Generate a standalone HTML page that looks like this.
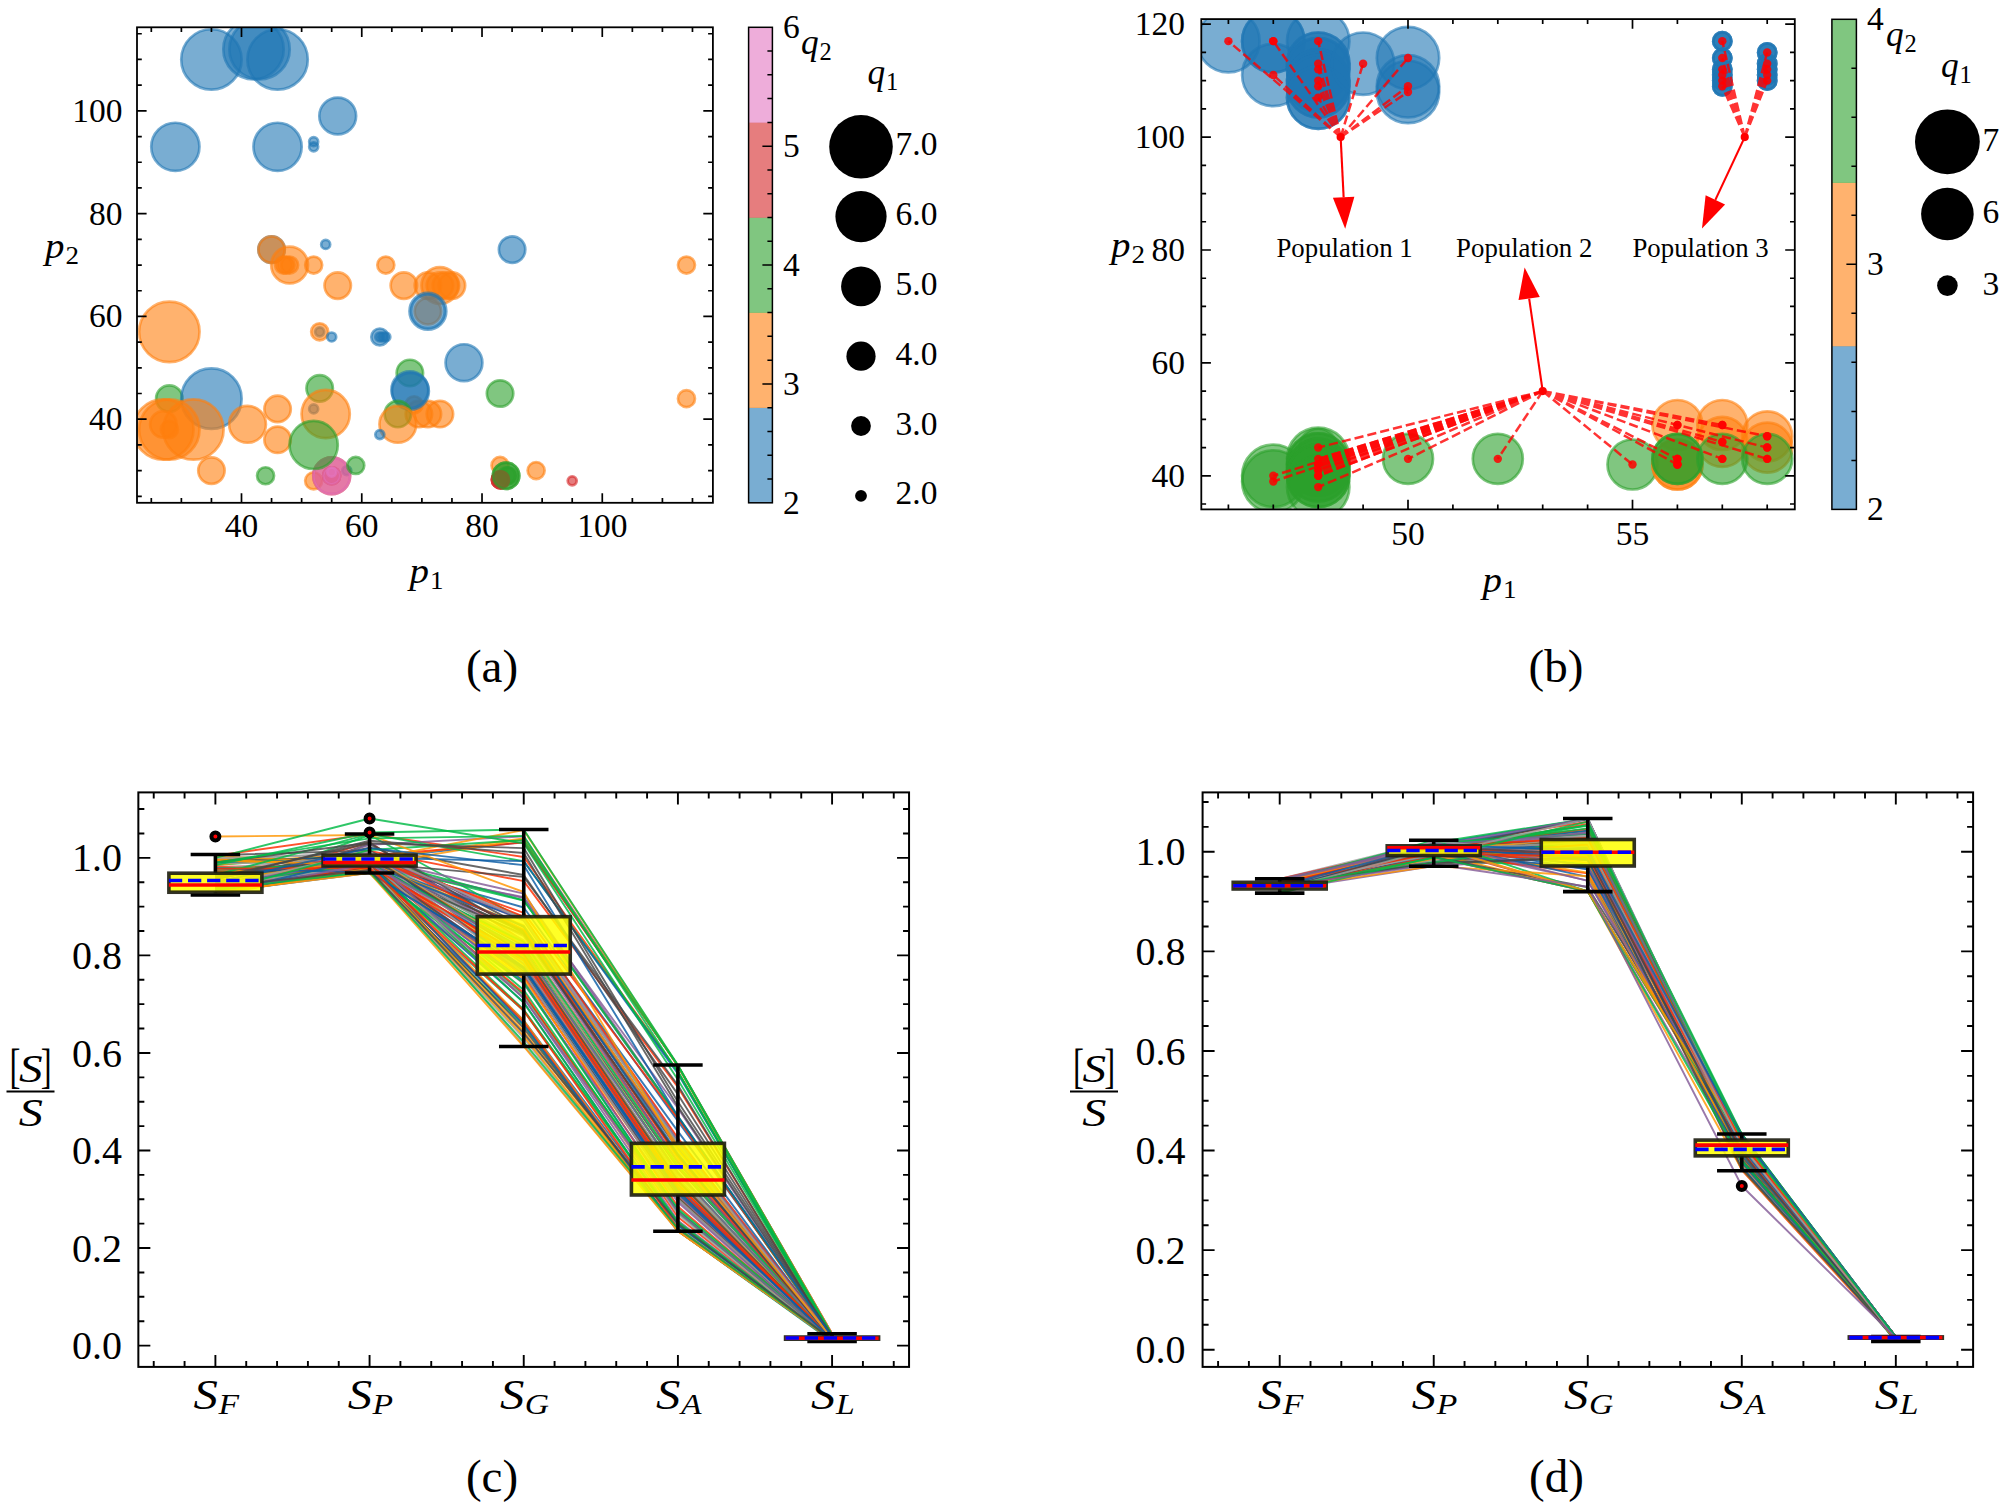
<!DOCTYPE html>
<html lang="en"><head><meta charset="utf-8"><title>Figure</title>
<style>html,body{margin:0;padding:0;background:#fff;overflow:hidden}svg{display:block}text{font-family:"Liberation Serif", "DejaVu Serif", serif;fill:#000}</style></head><body>
<svg width="2007" height="1508" viewBox="0 0 2007 1508">
<rect width="2007" height="1508" fill="#fff"/>
<clipPath id="ca"><rect x="137" y="27.3" width="575.9" height="475.5"/></clipPath>
<g clip-path="url(#ca)">
<circle cx="211.44" cy="59.47" r="30.2" fill="#1f77b4" fill-opacity="0.6" stroke="#1f77b4" stroke-opacity="0.6" stroke-width="2.7"/>
<circle cx="253.53" cy="49.19" r="30.2" fill="#1f77b4" fill-opacity="0.6" stroke="#1f77b4" stroke-opacity="0.6" stroke-width="2.7"/>
<circle cx="259.54" cy="49.19" r="30.2" fill="#1f77b4" fill-opacity="0.6" stroke="#1f77b4" stroke-opacity="0.6" stroke-width="2.7"/>
<circle cx="277.58" cy="59.47" r="30.2" fill="#1f77b4" fill-opacity="0.6" stroke="#1f77b4" stroke-opacity="0.6" stroke-width="2.7"/>
<circle cx="337.71" cy="116" r="18.4" fill="#1f77b4" fill-opacity="0.6" stroke="#1f77b4" stroke-opacity="0.6" stroke-width="2.7"/>
<circle cx="175.36" cy="146.83" r="24.1" fill="#1f77b4" fill-opacity="0.6" stroke="#1f77b4" stroke-opacity="0.6" stroke-width="2.7"/>
<circle cx="277.58" cy="146.83" r="24.1" fill="#1f77b4" fill-opacity="0.6" stroke="#1f77b4" stroke-opacity="0.6" stroke-width="2.7"/>
<circle cx="313.66" cy="141.69" r="4.5" fill="#1f77b4" fill-opacity="0.6" stroke="#1f77b4" stroke-opacity="0.6" stroke-width="2.7"/>
<circle cx="313.66" cy="146.83" r="4.5" fill="#1f77b4" fill-opacity="0.6" stroke="#1f77b4" stroke-opacity="0.6" stroke-width="2.7"/>
<circle cx="325.68" cy="244.47" r="4.5" fill="#1f77b4" fill-opacity="0.6" stroke="#1f77b4" stroke-opacity="0.6" stroke-width="2.7"/>
<circle cx="271.56" cy="249.61" r="13.2" fill="#1f77b4" fill-opacity="0.6" stroke="#1f77b4" stroke-opacity="0.6" stroke-width="2.7"/>
<circle cx="271.56" cy="249.61" r="13.2" fill="#ff7f0e" fill-opacity="0.6" stroke="#ff7f0e" stroke-opacity="0.6" stroke-width="2.7"/>
<circle cx="289.6" cy="265.03" r="18.4" fill="#ff7f0e" fill-opacity="0.6" stroke="#ff7f0e" stroke-opacity="0.6" stroke-width="2.7"/>
<circle cx="283.59" cy="265.03" r="8.5" fill="#ff7f0e" fill-opacity="0.6" stroke="#ff7f0e" stroke-opacity="0.6" stroke-width="2.7"/>
<circle cx="286" cy="265.03" r="8.5" fill="#ff7f0e" fill-opacity="0.6" stroke="#ff7f0e" stroke-opacity="0.6" stroke-width="2.7"/>
<circle cx="289.6" cy="265.03" r="8.5" fill="#ff7f0e" fill-opacity="0.6" stroke="#ff7f0e" stroke-opacity="0.6" stroke-width="2.7"/>
<circle cx="313.66" cy="265.03" r="8.5" fill="#ff7f0e" fill-opacity="0.6" stroke="#ff7f0e" stroke-opacity="0.6" stroke-width="2.7"/>
<circle cx="385.81" cy="265.03" r="8.5" fill="#ff7f0e" fill-opacity="0.6" stroke="#ff7f0e" stroke-opacity="0.6" stroke-width="2.7"/>
<circle cx="686.46" cy="265.03" r="8.5" fill="#ff7f0e" fill-opacity="0.6" stroke="#ff7f0e" stroke-opacity="0.6" stroke-width="2.7"/>
<circle cx="337.71" cy="285.59" r="13.2" fill="#ff7f0e" fill-opacity="0.6" stroke="#ff7f0e" stroke-opacity="0.6" stroke-width="2.7"/>
<circle cx="403.85" cy="285.59" r="13.2" fill="#ff7f0e" fill-opacity="0.6" stroke="#ff7f0e" stroke-opacity="0.6" stroke-width="2.7"/>
<circle cx="427.9" cy="285.59" r="13.2" fill="#ff7f0e" fill-opacity="0.6" stroke="#ff7f0e" stroke-opacity="0.6" stroke-width="2.7"/>
<circle cx="439.93" cy="285.59" r="18.4" fill="#ff7f0e" fill-opacity="0.6" stroke="#ff7f0e" stroke-opacity="0.6" stroke-width="2.7"/>
<circle cx="439.93" cy="285.59" r="13.2" fill="#ff7f0e" fill-opacity="0.6" stroke="#ff7f0e" stroke-opacity="0.6" stroke-width="2.7"/>
<circle cx="445.94" cy="285.59" r="13.2" fill="#ff7f0e" fill-opacity="0.6" stroke="#ff7f0e" stroke-opacity="0.6" stroke-width="2.7"/>
<circle cx="451.95" cy="285.59" r="13.2" fill="#ff7f0e" fill-opacity="0.6" stroke="#ff7f0e" stroke-opacity="0.6" stroke-width="2.7"/>
<circle cx="512.09" cy="249.61" r="13.2" fill="#1f77b4" fill-opacity="0.6" stroke="#1f77b4" stroke-opacity="0.6" stroke-width="2.7"/>
<circle cx="427.9" cy="311.28" r="13.2" fill="#ff7f0e" fill-opacity="0.6" stroke="#ff7f0e" stroke-opacity="0.6" stroke-width="2.7"/>
<circle cx="427.9" cy="311.28" r="18.4" fill="#1f77b4" fill-opacity="0.6" stroke="#1f77b4" stroke-opacity="0.6" stroke-width="2.7"/>
<circle cx="169.34" cy="331.84" r="30.2" fill="#ff7f0e" fill-opacity="0.6" stroke="#ff7f0e" stroke-opacity="0.6" stroke-width="2.7"/>
<circle cx="319.67" cy="331.84" r="4.5" fill="#1f77b4" fill-opacity="0.6" stroke="#1f77b4" stroke-opacity="0.6" stroke-width="2.7"/>
<circle cx="319.67" cy="331.84" r="8.5" fill="#ff7f0e" fill-opacity="0.6" stroke="#ff7f0e" stroke-opacity="0.6" stroke-width="2.7"/>
<circle cx="331.69" cy="336.98" r="4.5" fill="#1f77b4" fill-opacity="0.6" stroke="#1f77b4" stroke-opacity="0.6" stroke-width="2.7"/>
<circle cx="379.8" cy="336.98" r="8.5" fill="#1f77b4" fill-opacity="0.6" stroke="#1f77b4" stroke-opacity="0.6" stroke-width="2.7"/>
<circle cx="379.8" cy="336.98" r="4.5" fill="#1f77b4" fill-opacity="0.6" stroke="#1f77b4" stroke-opacity="0.6" stroke-width="2.7"/>
<circle cx="382.81" cy="336.98" r="4.5" fill="#1f77b4" fill-opacity="0.6" stroke="#1f77b4" stroke-opacity="0.6" stroke-width="2.7"/>
<circle cx="385.81" cy="336.98" r="4.5" fill="#1f77b4" fill-opacity="0.6" stroke="#1f77b4" stroke-opacity="0.6" stroke-width="2.7"/>
<circle cx="463.98" cy="362.67" r="18.4" fill="#1f77b4" fill-opacity="0.6" stroke="#1f77b4" stroke-opacity="0.6" stroke-width="2.7"/>
<circle cx="409.86" cy="372.95" r="13.2" fill="#2ca02c" fill-opacity="0.6" stroke="#2ca02c" stroke-opacity="0.6" stroke-width="2.7"/>
<circle cx="418.88" cy="414.06" r="13.2" fill="#ff7f0e" fill-opacity="0.6" stroke="#ff7f0e" stroke-opacity="0.6" stroke-width="2.7"/>
<circle cx="427.9" cy="414.06" r="13.2" fill="#ff7f0e" fill-opacity="0.6" stroke="#ff7f0e" stroke-opacity="0.6" stroke-width="2.7"/>
<circle cx="439.93" cy="414.06" r="13.2" fill="#ff7f0e" fill-opacity="0.6" stroke="#ff7f0e" stroke-opacity="0.6" stroke-width="2.7"/>
<circle cx="414.07" cy="404.81" r="8.5" fill="#ff7f0e" fill-opacity="0.6" stroke="#ff7f0e" stroke-opacity="0.6" stroke-width="2.7"/>
<circle cx="409.86" cy="389.8" r="18.4" fill="#1f77b4" fill-opacity="0.6" stroke="#1f77b4" stroke-opacity="0.6" stroke-width="2.7"/>
<circle cx="410.47" cy="391.19" r="18.4" fill="#1f77b4" fill-opacity="0.6" stroke="#1f77b4" stroke-opacity="0.6" stroke-width="2.7"/>
<circle cx="319.67" cy="388.37" r="13.2" fill="#2ca02c" fill-opacity="0.6" stroke="#2ca02c" stroke-opacity="0.6" stroke-width="2.7"/>
<circle cx="500.06" cy="393.5" r="13.2" fill="#2ca02c" fill-opacity="0.6" stroke="#2ca02c" stroke-opacity="0.6" stroke-width="2.7"/>
<circle cx="686.46" cy="398.64" r="8.5" fill="#ff7f0e" fill-opacity="0.6" stroke="#ff7f0e" stroke-opacity="0.6" stroke-width="2.7"/>
<circle cx="169.34" cy="398.64" r="13.2" fill="#2ca02c" fill-opacity="0.6" stroke="#2ca02c" stroke-opacity="0.6" stroke-width="2.7"/>
<circle cx="211.44" cy="398.64" r="30.2" fill="#1f77b4" fill-opacity="0.6" stroke="#1f77b4" stroke-opacity="0.6" stroke-width="2.7"/>
<circle cx="313.66" cy="408.92" r="4.5" fill="#1f77b4" fill-opacity="0.6" stroke="#1f77b4" stroke-opacity="0.6" stroke-width="2.7"/>
<circle cx="325.68" cy="414.06" r="24.1" fill="#ff7f0e" fill-opacity="0.6" stroke="#ff7f0e" stroke-opacity="0.6" stroke-width="2.7"/>
<circle cx="277.58" cy="408.92" r="13.2" fill="#ff7f0e" fill-opacity="0.6" stroke="#ff7f0e" stroke-opacity="0.6" stroke-width="2.7"/>
<circle cx="397.84" cy="414.06" r="13.2" fill="#2ca02c" fill-opacity="0.6" stroke="#2ca02c" stroke-opacity="0.6" stroke-width="2.7"/>
<circle cx="397.84" cy="424.34" r="18.4" fill="#ff7f0e" fill-opacity="0.6" stroke="#ff7f0e" stroke-opacity="0.6" stroke-width="2.7"/>
<circle cx="163.33" cy="429.48" r="30.2" fill="#ff7f0e" fill-opacity="0.6" stroke="#ff7f0e" stroke-opacity="0.6" stroke-width="2.7"/>
<circle cx="169.34" cy="429.48" r="30.2" fill="#ff7f0e" fill-opacity="0.6" stroke="#ff7f0e" stroke-opacity="0.6" stroke-width="2.7"/>
<circle cx="193.4" cy="429.48" r="30.2" fill="#ff7f0e" fill-opacity="0.6" stroke="#ff7f0e" stroke-opacity="0.6" stroke-width="2.7"/>
<circle cx="163.33" cy="424.34" r="13.2" fill="#ff7f0e" fill-opacity="0.6" stroke="#ff7f0e" stroke-opacity="0.6" stroke-width="2.7"/>
<circle cx="169.34" cy="429.48" r="8.5" fill="#ff7f0e" fill-opacity="0.6" stroke="#ff7f0e" stroke-opacity="0.6" stroke-width="2.7"/>
<circle cx="247.51" cy="424.34" r="18.4" fill="#ff7f0e" fill-opacity="0.6" stroke="#ff7f0e" stroke-opacity="0.6" stroke-width="2.7"/>
<circle cx="277.58" cy="439.76" r="13.2" fill="#ff7f0e" fill-opacity="0.6" stroke="#ff7f0e" stroke-opacity="0.6" stroke-width="2.7"/>
<circle cx="379.8" cy="434.62" r="4.5" fill="#1f77b4" fill-opacity="0.6" stroke="#1f77b4" stroke-opacity="0.6" stroke-width="2.7"/>
<circle cx="313.66" cy="480.87" r="8.5" fill="#ff7f0e" fill-opacity="0.6" stroke="#ff7f0e" stroke-opacity="0.6" stroke-width="2.7"/>
<circle cx="346.73" cy="470.59" r="4.5" fill="#1f77b4" fill-opacity="0.6" stroke="#1f77b4" stroke-opacity="0.6" stroke-width="2.7"/>
<circle cx="331.69" cy="475.73" r="18.4" fill="#d62728" fill-opacity="0.6" stroke="#d62728" stroke-opacity="0.6" stroke-width="2.7"/>
<circle cx="331.69" cy="475.73" r="18.4" fill="#e377c2" fill-opacity="0.6" stroke="#e377c2" stroke-opacity="0.6" stroke-width="2.7"/>
<circle cx="331.69" cy="475.73" r="8.5" fill="#d62728" fill-opacity="0.6" stroke="#d62728" stroke-opacity="0.6" stroke-width="2.7"/>
<circle cx="331.69" cy="475.73" r="8.5" fill="#e377c2" fill-opacity="0.6" stroke="#e377c2" stroke-opacity="0.6" stroke-width="2.7"/>
<circle cx="331.69" cy="472.13" r="4.5" fill="#e377c2" fill-opacity="0.6" stroke="#e377c2" stroke-opacity="0.6" stroke-width="2.7"/>
<circle cx="313.66" cy="444.89" r="24.1" fill="#2ca02c" fill-opacity="0.6" stroke="#2ca02c" stroke-opacity="0.6" stroke-width="2.7"/>
<circle cx="211.44" cy="470.59" r="13.2" fill="#ff7f0e" fill-opacity="0.6" stroke="#ff7f0e" stroke-opacity="0.6" stroke-width="2.7"/>
<circle cx="265.55" cy="475.73" r="8.5" fill="#2ca02c" fill-opacity="0.6" stroke="#2ca02c" stroke-opacity="0.6" stroke-width="2.7"/>
<circle cx="355.75" cy="465.45" r="8.5" fill="#2ca02c" fill-opacity="0.6" stroke="#2ca02c" stroke-opacity="0.6" stroke-width="2.7"/>
<circle cx="500.06" cy="465.45" r="8.5" fill="#ff7f0e" fill-opacity="0.6" stroke="#ff7f0e" stroke-opacity="0.6" stroke-width="2.7"/>
<circle cx="508.48" cy="475.73" r="8.5" fill="#2ca02c" fill-opacity="0.6" stroke="#2ca02c" stroke-opacity="0.6" stroke-width="2.7"/>
<circle cx="506.67" cy="475.73" r="8.5" fill="#2ca02c" fill-opacity="0.6" stroke="#2ca02c" stroke-opacity="0.6" stroke-width="2.7"/>
<circle cx="506.07" cy="475.73" r="13.2" fill="#2ca02c" fill-opacity="0.6" stroke="#2ca02c" stroke-opacity="0.6" stroke-width="2.7"/>
<circle cx="500.36" cy="479.84" r="8.5" fill="#d62728" fill-opacity="0.6" stroke="#d62728" stroke-opacity="0.6" stroke-width="2.7"/>
<circle cx="500.36" cy="479.84" r="8.5" fill="#d62728" fill-opacity="0.6" stroke="#d62728" stroke-opacity="0.6" stroke-width="2.7"/>
<circle cx="500.36" cy="479.84" r="8.5" fill="#d62728" fill-opacity="0.6" stroke="#d62728" stroke-opacity="0.6" stroke-width="2.7"/>
<circle cx="506.07" cy="475.73" r="13.2" fill="#2ca02c" fill-opacity="0.6" stroke="#2ca02c" stroke-opacity="0.6" stroke-width="2.7"/>
<circle cx="536.14" cy="470.59" r="8.5" fill="#ff7f0e" fill-opacity="0.6" stroke="#ff7f0e" stroke-opacity="0.6" stroke-width="2.7"/>
<circle cx="572.21" cy="480.87" r="4.5" fill="#d62728" fill-opacity="0.6" stroke="#d62728" stroke-opacity="0.6" stroke-width="2.7"/>
<circle cx="427.9" cy="311.28" r="16.6" fill="none" stroke="#1f77b4" stroke-opacity="0.6" stroke-width="2.2"/>
</g>
<path d="M241.5 502.8v-9.6M241.5 27.3v9.6M361.76 502.8v-9.6M361.76 27.3v9.6M482.02 502.8v-9.6M482.02 27.3v9.6M602.28 502.8v-9.6M602.28 27.3v9.6M151.31 502.8v-4.8M151.31 27.3v4.8M181.37 502.8v-4.8M181.37 27.3v4.8M211.44 502.8v-4.8M211.44 27.3v4.8M271.56 502.8v-4.8M271.56 27.3v4.8M301.63 502.8v-4.8M301.63 27.3v4.8M331.69 502.8v-4.8M331.69 27.3v4.8M391.82 502.8v-4.8M391.82 27.3v4.8M421.89 502.8v-4.8M421.89 27.3v4.8M451.95 502.8v-4.8M451.95 27.3v4.8M512.09 502.8v-4.8M512.09 27.3v4.8M542.15 502.8v-4.8M542.15 27.3v4.8M572.21 502.8v-4.8M572.21 27.3v4.8M632.35 502.8v-4.8M632.35 27.3v4.8M662.41 502.8v-4.8M662.41 27.3v4.8M692.47 502.8v-4.8M692.47 27.3v4.8M137 419.2h9.6M712.9 419.2h-9.6M137 316.42h9.6M712.9 316.42h-9.6M137 213.64h9.6M712.9 213.64h-9.6M137 110.86h9.6M712.9 110.86h-9.6M137 496.28h4.8M712.9 496.28h-4.8M137 470.59h4.8M712.9 470.59h-4.8M137 444.89h4.8M712.9 444.89h-4.8M137 393.5h4.8M712.9 393.5h-4.8M137 367.81h4.8M712.9 367.81h-4.8M137 342.12h4.8M712.9 342.12h-4.8M137 290.73h4.8M712.9 290.73h-4.8M137 265.03h4.8M712.9 265.03h-4.8M137 239.33h4.8M712.9 239.33h-4.8M137 187.94h4.8M712.9 187.94h-4.8M137 162.25h4.8M712.9 162.25h-4.8M137 136.55h4.8M712.9 136.55h-4.8M137 85.16h4.8M712.9 85.16h-4.8M137 59.47h4.8M712.9 59.47h-4.8M137 33.77h4.8M712.9 33.77h-4.8" stroke="#000" stroke-width="1.7" fill="none"/>
<rect x="137" y="27.3" width="575.9" height="475.5" fill="none" stroke="#000" stroke-width="1.8"/>
<text x="241.5" y="537.3" font-size="33.5" text-anchor="middle">40</text>
<text x="122.6" y="430.2" font-size="33.5" text-anchor="end">40</text>
<text x="361.76" y="537.3" font-size="33.5" text-anchor="middle">60</text>
<text x="122.6" y="327.42" font-size="33.5" text-anchor="end">60</text>
<text x="482.02" y="537.3" font-size="33.5" text-anchor="middle">80</text>
<text x="122.6" y="224.64" font-size="33.5" text-anchor="end">80</text>
<text x="602.28" y="537.3" font-size="33.5" text-anchor="middle">100</text>
<text x="122.6" y="121.86" font-size="33.5" text-anchor="end">100</text>
<g transform="translate(45 258.3) scale(1.08 1)"><text x="0" y="0" font-size="36"><tspan font-style="italic">p</tspan><tspan font-size="25" dx="1" dy="5.7">2</tspan></text></g>
<g transform="translate(409.5 583.2) scale(1.08 1)"><text x="0" y="0" font-size="36"><tspan font-style="italic">p</tspan><tspan font-size="25" dx="1" dy="5.7">1</tspan></text></g>
<text x="492" y="681.6" font-size="47" text-anchor="middle">(a)</text>
<rect x="748.6" y="407.7" width="23.8" height="95.4" fill="#1f77b4" fill-opacity="0.6"/>
<rect x="748.6" y="312.6" width="23.8" height="95.4" fill="#ff7f0e" fill-opacity="0.6"/>
<rect x="748.6" y="217.5" width="23.8" height="95.4" fill="#2ca02c" fill-opacity="0.6"/>
<rect x="748.6" y="122.4" width="23.8" height="95.4" fill="#d62728" fill-opacity="0.6"/>
<rect x="748.6" y="27.3" width="23.8" height="95.4" fill="#e377c2" fill-opacity="0.6"/>
<path d="M772.4 479.02h-5M772.4 455.25h-5M772.4 431.47h-5M772.4 407.7h-5M772.4 383.92h-10M772.4 360.15h-5M772.4 336.37h-5M772.4 312.6h-5M772.4 288.82h-5M772.4 265.05h-10M772.4 241.27h-5M772.4 217.5h-5M772.4 193.72h-5M772.4 169.95h-5M772.4 146.17h-10M772.4 122.4h-5M772.4 98.62h-5M772.4 74.85h-5M772.4 51.07h-5" stroke="#000" stroke-width="1.5" fill="none"/>
<rect x="748.6" y="27.3" width="23.8" height="475.5" fill="none" stroke="#000" stroke-width="1.5"/>
<text x="782.9" y="513.86" font-size="33.5" text-anchor="start">2</text>
<text x="782.9" y="394.98" font-size="33.5" text-anchor="start">3</text>
<text x="782.9" y="276.11" font-size="33.5" text-anchor="start">4</text>
<text x="782.9" y="157.23" font-size="33.5" text-anchor="start">5</text>
<text x="782.9" y="38.36" font-size="33.5" text-anchor="start">6</text>
<g transform="translate(801 54.3) scale(0.98 1)"><text x="0" y="0" font-size="36"><tspan font-style="italic">q</tspan><tspan font-size="25" dx="1" dy="5.7">2</tspan></text></g>
<g transform="translate(867.5 83.8) scale(0.98 1)"><text x="0" y="0" font-size="36"><tspan font-style="italic">q</tspan><tspan font-size="25" dx="1" dy="5.7">1</tspan></text></g>
<circle cx="861" cy="146.8" r="31.8" fill="#000"/>
<text x="895.5" y="155.4" font-size="33.5" text-anchor="start">7.0</text>
<circle cx="861" cy="216.6" r="25.6" fill="#000"/>
<text x="895.5" y="225.2" font-size="33.5" text-anchor="start">6.0</text>
<circle cx="861" cy="286.4" r="19.9" fill="#000"/>
<text x="895.5" y="295" font-size="33.5" text-anchor="start">5.0</text>
<circle cx="861" cy="356.2" r="14.6" fill="#000"/>
<text x="895.5" y="364.8" font-size="33.5" text-anchor="start">4.0</text>
<circle cx="861" cy="426" r="9.9" fill="#000"/>
<text x="895.5" y="434.6" font-size="33.5" text-anchor="start">3.0</text>
<circle cx="861" cy="495.8" r="5.9" fill="#000"/>
<text x="895.5" y="504.4" font-size="33.5" text-anchor="start">2.0</text>
<clipPath id="cb"><rect x="1201.3" y="19.1" width="593.5" height="490.3"/></clipPath>
<g clip-path="url(#cb)">
<circle cx="1228.4" cy="41.14" r="31.2" fill="#1f77b4" fill-opacity="0.6" stroke="#1f77b4" stroke-opacity="0.6" stroke-width="2.7"/>
<circle cx="1273.3" cy="41.14" r="31.2" fill="#1f77b4" fill-opacity="0.6" stroke="#1f77b4" stroke-opacity="0.6" stroke-width="2.7"/>
<circle cx="1273.3" cy="41.14" r="31.2" fill="#1f77b4" fill-opacity="0.6" stroke="#1f77b4" stroke-opacity="0.6" stroke-width="2.7"/>
<circle cx="1318.2" cy="41.14" r="31.2" fill="#1f77b4" fill-opacity="0.6" stroke="#1f77b4" stroke-opacity="0.6" stroke-width="2.7"/>
<circle cx="1273.3" cy="75" r="31.2" fill="#1f77b4" fill-opacity="0.6" stroke="#1f77b4" stroke-opacity="0.6" stroke-width="2.7"/>
<circle cx="1318.2" cy="63.72" r="31.2" fill="#1f77b4" fill-opacity="0.6" stroke="#1f77b4" stroke-opacity="0.6" stroke-width="2.7"/>
<circle cx="1318.2" cy="63.72" r="31.2" fill="#1f77b4" fill-opacity="0.6" stroke="#1f77b4" stroke-opacity="0.6" stroke-width="2.7"/>
<circle cx="1318.2" cy="69.36" r="31.2" fill="#1f77b4" fill-opacity="0.6" stroke="#1f77b4" stroke-opacity="0.6" stroke-width="2.7"/>
<circle cx="1318.2" cy="69.36" r="31.2" fill="#1f77b4" fill-opacity="0.6" stroke="#1f77b4" stroke-opacity="0.6" stroke-width="2.7"/>
<circle cx="1318.2" cy="80.65" r="31.2" fill="#1f77b4" fill-opacity="0.6" stroke="#1f77b4" stroke-opacity="0.6" stroke-width="2.7"/>
<circle cx="1318.2" cy="80.65" r="31.2" fill="#1f77b4" fill-opacity="0.6" stroke="#1f77b4" stroke-opacity="0.6" stroke-width="2.7"/>
<circle cx="1318.2" cy="86.3" r="31.2" fill="#1f77b4" fill-opacity="0.6" stroke="#1f77b4" stroke-opacity="0.6" stroke-width="2.7"/>
<circle cx="1318.2" cy="86.3" r="31.2" fill="#1f77b4" fill-opacity="0.6" stroke="#1f77b4" stroke-opacity="0.6" stroke-width="2.7"/>
<circle cx="1318.2" cy="97.58" r="31.2" fill="#1f77b4" fill-opacity="0.6" stroke="#1f77b4" stroke-opacity="0.6" stroke-width="2.7"/>
<circle cx="1318.2" cy="97.58" r="31.2" fill="#1f77b4" fill-opacity="0.6" stroke="#1f77b4" stroke-opacity="0.6" stroke-width="2.7"/>
<circle cx="1363.1" cy="63.72" r="31.2" fill="#1f77b4" fill-opacity="0.6" stroke="#1f77b4" stroke-opacity="0.6" stroke-width="2.7"/>
<circle cx="1408" cy="58.07" r="31.2" fill="#1f77b4" fill-opacity="0.6" stroke="#1f77b4" stroke-opacity="0.6" stroke-width="2.7"/>
<circle cx="1408" cy="86.3" r="31.2" fill="#1f77b4" fill-opacity="0.6" stroke="#1f77b4" stroke-opacity="0.6" stroke-width="2.7"/>
<circle cx="1408" cy="91.94" r="31.2" fill="#1f77b4" fill-opacity="0.6" stroke="#1f77b4" stroke-opacity="0.6" stroke-width="2.7"/>
<circle cx="1722.3" cy="41.14" r="9.1" fill="#1f77b4" fill-opacity="0.6" stroke="#1f77b4" stroke-opacity="0.6" stroke-width="2.7"/>
<circle cx="1722.3" cy="41.14" r="9.1" fill="#1f77b4" fill-opacity="0.6" stroke="#1f77b4" stroke-opacity="0.6" stroke-width="2.7"/>
<circle cx="1722.3" cy="41.14" r="9.1" fill="#1f77b4" fill-opacity="0.6" stroke="#1f77b4" stroke-opacity="0.6" stroke-width="2.7"/>
<circle cx="1722.3" cy="58.07" r="9.1" fill="#1f77b4" fill-opacity="0.6" stroke="#1f77b4" stroke-opacity="0.6" stroke-width="2.7"/>
<circle cx="1722.3" cy="58.07" r="9.1" fill="#1f77b4" fill-opacity="0.6" stroke="#1f77b4" stroke-opacity="0.6" stroke-width="2.7"/>
<circle cx="1722.3" cy="58.07" r="9.1" fill="#1f77b4" fill-opacity="0.6" stroke="#1f77b4" stroke-opacity="0.6" stroke-width="2.7"/>
<circle cx="1722.3" cy="69.36" r="9.1" fill="#1f77b4" fill-opacity="0.6" stroke="#1f77b4" stroke-opacity="0.6" stroke-width="2.7"/>
<circle cx="1722.3" cy="69.36" r="9.1" fill="#1f77b4" fill-opacity="0.6" stroke="#1f77b4" stroke-opacity="0.6" stroke-width="2.7"/>
<circle cx="1722.3" cy="69.36" r="9.1" fill="#1f77b4" fill-opacity="0.6" stroke="#1f77b4" stroke-opacity="0.6" stroke-width="2.7"/>
<circle cx="1722.3" cy="75" r="9.1" fill="#1f77b4" fill-opacity="0.6" stroke="#1f77b4" stroke-opacity="0.6" stroke-width="2.7"/>
<circle cx="1722.3" cy="75" r="9.1" fill="#1f77b4" fill-opacity="0.6" stroke="#1f77b4" stroke-opacity="0.6" stroke-width="2.7"/>
<circle cx="1722.3" cy="75" r="9.1" fill="#1f77b4" fill-opacity="0.6" stroke="#1f77b4" stroke-opacity="0.6" stroke-width="2.7"/>
<circle cx="1722.3" cy="80.65" r="9.1" fill="#1f77b4" fill-opacity="0.6" stroke="#1f77b4" stroke-opacity="0.6" stroke-width="2.7"/>
<circle cx="1722.3" cy="80.65" r="9.1" fill="#1f77b4" fill-opacity="0.6" stroke="#1f77b4" stroke-opacity="0.6" stroke-width="2.7"/>
<circle cx="1722.3" cy="80.65" r="9.1" fill="#1f77b4" fill-opacity="0.6" stroke="#1f77b4" stroke-opacity="0.6" stroke-width="2.7"/>
<circle cx="1722.3" cy="86.3" r="9.1" fill="#1f77b4" fill-opacity="0.6" stroke="#1f77b4" stroke-opacity="0.6" stroke-width="2.7"/>
<circle cx="1722.3" cy="86.3" r="9.1" fill="#1f77b4" fill-opacity="0.6" stroke="#1f77b4" stroke-opacity="0.6" stroke-width="2.7"/>
<circle cx="1722.3" cy="86.3" r="9.1" fill="#1f77b4" fill-opacity="0.6" stroke="#1f77b4" stroke-opacity="0.6" stroke-width="2.7"/>
<circle cx="1767.2" cy="52.42" r="9.1" fill="#1f77b4" fill-opacity="0.6" stroke="#1f77b4" stroke-opacity="0.6" stroke-width="2.7"/>
<circle cx="1767.2" cy="52.42" r="9.1" fill="#1f77b4" fill-opacity="0.6" stroke="#1f77b4" stroke-opacity="0.6" stroke-width="2.7"/>
<circle cx="1767.2" cy="52.42" r="9.1" fill="#1f77b4" fill-opacity="0.6" stroke="#1f77b4" stroke-opacity="0.6" stroke-width="2.7"/>
<circle cx="1767.2" cy="63.72" r="9.1" fill="#1f77b4" fill-opacity="0.6" stroke="#1f77b4" stroke-opacity="0.6" stroke-width="2.7"/>
<circle cx="1767.2" cy="63.72" r="9.1" fill="#1f77b4" fill-opacity="0.6" stroke="#1f77b4" stroke-opacity="0.6" stroke-width="2.7"/>
<circle cx="1767.2" cy="63.72" r="9.1" fill="#1f77b4" fill-opacity="0.6" stroke="#1f77b4" stroke-opacity="0.6" stroke-width="2.7"/>
<circle cx="1767.2" cy="69.36" r="9.1" fill="#1f77b4" fill-opacity="0.6" stroke="#1f77b4" stroke-opacity="0.6" stroke-width="2.7"/>
<circle cx="1767.2" cy="69.36" r="9.1" fill="#1f77b4" fill-opacity="0.6" stroke="#1f77b4" stroke-opacity="0.6" stroke-width="2.7"/>
<circle cx="1767.2" cy="69.36" r="9.1" fill="#1f77b4" fill-opacity="0.6" stroke="#1f77b4" stroke-opacity="0.6" stroke-width="2.7"/>
<circle cx="1767.2" cy="75" r="9.1" fill="#1f77b4" fill-opacity="0.6" stroke="#1f77b4" stroke-opacity="0.6" stroke-width="2.7"/>
<circle cx="1767.2" cy="75" r="9.1" fill="#1f77b4" fill-opacity="0.6" stroke="#1f77b4" stroke-opacity="0.6" stroke-width="2.7"/>
<circle cx="1767.2" cy="75" r="9.1" fill="#1f77b4" fill-opacity="0.6" stroke="#1f77b4" stroke-opacity="0.6" stroke-width="2.7"/>
<circle cx="1767.2" cy="80.65" r="9.1" fill="#1f77b4" fill-opacity="0.6" stroke="#1f77b4" stroke-opacity="0.6" stroke-width="2.7"/>
<circle cx="1767.2" cy="80.65" r="9.1" fill="#1f77b4" fill-opacity="0.6" stroke="#1f77b4" stroke-opacity="0.6" stroke-width="2.7"/>
<circle cx="1767.2" cy="80.65" r="9.1" fill="#1f77b4" fill-opacity="0.6" stroke="#1f77b4" stroke-opacity="0.6" stroke-width="2.7"/>
<circle cx="1273.3" cy="475.8" r="31.2" fill="#2ca02c" fill-opacity="0.6" stroke="#2ca02c" stroke-opacity="0.6" stroke-width="2.7"/>
<circle cx="1273.3" cy="481.44" r="31.2" fill="#2ca02c" fill-opacity="0.6" stroke="#2ca02c" stroke-opacity="0.6" stroke-width="2.7"/>
<circle cx="1318.2" cy="447.57" r="18.8" fill="#2ca02c" fill-opacity="0.6" stroke="#2ca02c" stroke-opacity="0.6" stroke-width="2.7"/>
<circle cx="1318.2" cy="458.87" r="31.2" fill="#2ca02c" fill-opacity="0.6" stroke="#2ca02c" stroke-opacity="0.6" stroke-width="2.7"/>
<circle cx="1318.2" cy="464.51" r="31.2" fill="#2ca02c" fill-opacity="0.6" stroke="#2ca02c" stroke-opacity="0.6" stroke-width="2.7"/>
<circle cx="1318.2" cy="464.51" r="31.2" fill="#2ca02c" fill-opacity="0.6" stroke="#2ca02c" stroke-opacity="0.6" stroke-width="2.7"/>
<circle cx="1318.2" cy="470.15" r="31.2" fill="#2ca02c" fill-opacity="0.6" stroke="#2ca02c" stroke-opacity="0.6" stroke-width="2.7"/>
<circle cx="1318.2" cy="470.15" r="31.2" fill="#2ca02c" fill-opacity="0.6" stroke="#2ca02c" stroke-opacity="0.6" stroke-width="2.7"/>
<circle cx="1318.2" cy="475.8" r="31.2" fill="#2ca02c" fill-opacity="0.6" stroke="#2ca02c" stroke-opacity="0.6" stroke-width="2.7"/>
<circle cx="1318.2" cy="475.8" r="31.2" fill="#2ca02c" fill-opacity="0.6" stroke="#2ca02c" stroke-opacity="0.6" stroke-width="2.7"/>
<circle cx="1318.2" cy="487.09" r="31.2" fill="#2ca02c" fill-opacity="0.6" stroke="#2ca02c" stroke-opacity="0.6" stroke-width="2.7"/>
<circle cx="1408" cy="458.87" r="25" fill="#2ca02c" fill-opacity="0.6" stroke="#2ca02c" stroke-opacity="0.6" stroke-width="2.7"/>
<circle cx="1497.8" cy="458.87" r="25" fill="#2ca02c" fill-opacity="0.6" stroke="#2ca02c" stroke-opacity="0.6" stroke-width="2.7"/>
<circle cx="1632.5" cy="464.51" r="25" fill="#2ca02c" fill-opacity="0.6" stroke="#2ca02c" stroke-opacity="0.6" stroke-width="2.7"/>
<circle cx="1677.4" cy="425" r="25" fill="#ff7f0e" fill-opacity="0.6" stroke="#ff7f0e" stroke-opacity="0.6" stroke-width="2.7"/>
<circle cx="1677.4" cy="464.51" r="25" fill="#ff7f0e" fill-opacity="0.6" stroke="#ff7f0e" stroke-opacity="0.6" stroke-width="2.7"/>
<circle cx="1677.4" cy="464.51" r="25" fill="#ff7f0e" fill-opacity="0.6" stroke="#ff7f0e" stroke-opacity="0.6" stroke-width="2.7"/>
<circle cx="1722.3" cy="425" r="25" fill="#ff7f0e" fill-opacity="0.6" stroke="#ff7f0e" stroke-opacity="0.6" stroke-width="2.7"/>
<circle cx="1722.3" cy="441.93" r="25" fill="#ff7f0e" fill-opacity="0.6" stroke="#ff7f0e" stroke-opacity="0.6" stroke-width="2.7"/>
<circle cx="1767.2" cy="436.28" r="25" fill="#ff7f0e" fill-opacity="0.6" stroke="#ff7f0e" stroke-opacity="0.6" stroke-width="2.7"/>
<circle cx="1767.2" cy="447.57" r="25" fill="#ff7f0e" fill-opacity="0.6" stroke="#ff7f0e" stroke-opacity="0.6" stroke-width="2.7"/>
<circle cx="1677.4" cy="458.87" r="25" fill="#2ca02c" fill-opacity="0.6" stroke="#2ca02c" stroke-opacity="0.6" stroke-width="2.7"/>
<circle cx="1677.4" cy="458.87" r="25" fill="#2ca02c" fill-opacity="0.6" stroke="#2ca02c" stroke-opacity="0.6" stroke-width="2.7"/>
<circle cx="1722.3" cy="458.87" r="25" fill="#2ca02c" fill-opacity="0.6" stroke="#2ca02c" stroke-opacity="0.6" stroke-width="2.7"/>
<circle cx="1767.2" cy="458.87" r="25" fill="#2ca02c" fill-opacity="0.6" stroke="#2ca02c" stroke-opacity="0.6" stroke-width="2.7"/>
<path d="M1340.65 137.1L1228.4 41.14M1340.65 137.1L1273.3 41.14M1340.65 137.1L1273.3 41.14M1340.65 137.1L1318.2 41.14M1340.65 137.1L1273.3 75M1340.65 137.1L1318.2 63.72M1340.65 137.1L1318.2 69.36M1340.65 137.1L1318.2 80.65M1340.65 137.1L1318.2 86.3M1340.65 137.1L1318.2 97.58M1340.65 137.1L1363.1 63.72M1340.65 137.1L1408 58.07M1340.65 137.1L1408 86.3M1340.65 137.1L1408 91.94M1340.65 137.1L1228.4 41.14M1340.65 137.1L1273.3 41.14M1340.65 137.1L1273.3 41.14M1340.65 137.1L1318.2 41.14M1340.65 137.1L1273.3 75M1340.65 137.1L1318.2 63.72M1340.65 137.1L1318.2 69.36M1340.65 137.1L1318.2 80.65M1340.65 137.1L1318.2 86.3M1340.65 137.1L1318.2 97.58M1340.65 137.1L1363.1 63.72M1340.65 137.1L1408 58.07M1340.65 137.1L1408 86.3M1340.65 137.1L1408 91.94" stroke="#f00" stroke-opacity="0.8" stroke-width="2.5" stroke-dasharray="9.2 4" fill="none"/>
<circle cx="1228.4" cy="41.14" r="4.2" fill="#f00" fill-opacity="0.85"/>
<circle cx="1273.3" cy="41.14" r="4.2" fill="#f00" fill-opacity="0.85"/>
<circle cx="1273.3" cy="41.14" r="4.2" fill="#f00" fill-opacity="0.85"/>
<circle cx="1318.2" cy="41.14" r="4.2" fill="#f00" fill-opacity="0.85"/>
<circle cx="1273.3" cy="75" r="4.2" fill="#f00" fill-opacity="0.85"/>
<circle cx="1318.2" cy="63.72" r="4.2" fill="#f00" fill-opacity="0.85"/>
<circle cx="1318.2" cy="69.36" r="4.2" fill="#f00" fill-opacity="0.85"/>
<circle cx="1318.2" cy="80.65" r="4.2" fill="#f00" fill-opacity="0.85"/>
<circle cx="1318.2" cy="86.3" r="4.2" fill="#f00" fill-opacity="0.85"/>
<circle cx="1318.2" cy="97.58" r="4.2" fill="#f00" fill-opacity="0.85"/>
<circle cx="1363.1" cy="63.72" r="4.2" fill="#f00" fill-opacity="0.85"/>
<circle cx="1408" cy="58.07" r="4.2" fill="#f00" fill-opacity="0.85"/>
<circle cx="1408" cy="86.3" r="4.2" fill="#f00" fill-opacity="0.85"/>
<circle cx="1408" cy="91.94" r="4.2" fill="#f00" fill-opacity="0.85"/>
<circle cx="1340.65" cy="137.1" r="4.1" fill="#f00"/>
<path d="M1744.75 137.1L1722.3 41.14M1744.75 137.1L1722.3 58.07M1744.75 137.1L1722.3 69.36M1744.75 137.1L1722.3 75M1744.75 137.1L1722.3 80.65M1744.75 137.1L1722.3 86.3M1744.75 137.1L1767.2 52.42M1744.75 137.1L1767.2 63.72M1744.75 137.1L1767.2 69.36M1744.75 137.1L1767.2 75M1744.75 137.1L1767.2 80.65M1744.75 137.1L1722.3 41.14M1744.75 137.1L1722.3 58.07M1744.75 137.1L1722.3 69.36M1744.75 137.1L1722.3 75M1744.75 137.1L1722.3 80.65M1744.75 137.1L1722.3 86.3M1744.75 137.1L1767.2 52.42M1744.75 137.1L1767.2 63.72M1744.75 137.1L1767.2 69.36M1744.75 137.1L1767.2 75M1744.75 137.1L1767.2 80.65M1744.75 137.1L1722.3 41.14M1744.75 137.1L1722.3 58.07M1744.75 137.1L1722.3 69.36M1744.75 137.1L1722.3 75M1744.75 137.1L1722.3 80.65M1744.75 137.1L1722.3 86.3M1744.75 137.1L1767.2 52.42M1744.75 137.1L1767.2 63.72M1744.75 137.1L1767.2 69.36M1744.75 137.1L1767.2 75M1744.75 137.1L1767.2 80.65" stroke="#f00" stroke-opacity="0.8" stroke-width="2.5" stroke-dasharray="9.2 4" fill="none"/>
<circle cx="1722.3" cy="41.14" r="4.2" fill="#f00" fill-opacity="0.85"/>
<circle cx="1722.3" cy="58.07" r="4.2" fill="#f00" fill-opacity="0.85"/>
<circle cx="1722.3" cy="69.36" r="4.2" fill="#f00" fill-opacity="0.85"/>
<circle cx="1722.3" cy="75" r="4.2" fill="#f00" fill-opacity="0.85"/>
<circle cx="1722.3" cy="80.65" r="4.2" fill="#f00" fill-opacity="0.85"/>
<circle cx="1722.3" cy="86.3" r="4.2" fill="#f00" fill-opacity="0.85"/>
<circle cx="1767.2" cy="52.42" r="4.2" fill="#f00" fill-opacity="0.85"/>
<circle cx="1767.2" cy="63.72" r="4.2" fill="#f00" fill-opacity="0.85"/>
<circle cx="1767.2" cy="69.36" r="4.2" fill="#f00" fill-opacity="0.85"/>
<circle cx="1767.2" cy="75" r="4.2" fill="#f00" fill-opacity="0.85"/>
<circle cx="1767.2" cy="80.65" r="4.2" fill="#f00" fill-opacity="0.85"/>
<circle cx="1744.75" cy="137.1" r="4.1" fill="#f00"/>
<path d="M1542.7 391.12L1273.3 475.8M1542.7 391.12L1273.3 481.44M1542.7 391.12L1318.2 447.57M1542.7 391.12L1318.2 458.87M1542.7 391.12L1318.2 464.51M1542.7 391.12L1318.2 464.51M1542.7 391.12L1318.2 470.15M1542.7 391.12L1318.2 470.15M1542.7 391.12L1318.2 475.8M1542.7 391.12L1318.2 475.8M1542.7 391.12L1318.2 487.09M1542.7 391.12L1408 458.87M1542.7 391.12L1497.8 458.87M1542.7 391.12L1632.5 464.51M1542.7 391.12L1677.4 425M1542.7 391.12L1677.4 464.51M1542.7 391.12L1677.4 464.51M1542.7 391.12L1722.3 425M1542.7 391.12L1722.3 441.93M1542.7 391.12L1767.2 436.28M1542.7 391.12L1767.2 447.57M1542.7 391.12L1677.4 458.87M1542.7 391.12L1677.4 458.87M1542.7 391.12L1722.3 458.87M1542.7 391.12L1767.2 458.87M1542.7 391.12L1677.4 425M1542.7 391.12L1722.3 425M1542.7 391.12L1767.2 436.28M1542.7 391.12L1722.3 441.93M1542.7 391.12L1767.2 447.57M1542.7 391.12L1677.4 458.87M1542.7 391.12L1722.3 458.87M1542.7 391.12L1767.2 458.87M1542.7 391.12L1677.4 464.51M1542.7 391.12L1273.3 475.8M1542.7 391.12L1273.3 481.44M1542.7 391.12L1318.2 447.57M1542.7 391.12L1318.2 458.87M1542.7 391.12L1318.2 464.51M1542.7 391.12L1318.2 464.51M1542.7 391.12L1318.2 470.15M1542.7 391.12L1318.2 470.15M1542.7 391.12L1318.2 475.8M1542.7 391.12L1318.2 475.8M1542.7 391.12L1318.2 487.09M1542.7 391.12L1408 458.87M1542.7 391.12L1497.8 458.87M1542.7 391.12L1632.5 464.51M1542.7 391.12L1677.4 425M1542.7 391.12L1677.4 464.51M1542.7 391.12L1677.4 464.51M1542.7 391.12L1722.3 425M1542.7 391.12L1722.3 441.93M1542.7 391.12L1767.2 436.28M1542.7 391.12L1767.2 447.57M1542.7 391.12L1677.4 458.87M1542.7 391.12L1677.4 458.87M1542.7 391.12L1722.3 458.87M1542.7 391.12L1767.2 458.87M1542.7 391.12L1677.4 425M1542.7 391.12L1722.3 425M1542.7 391.12L1767.2 436.28M1542.7 391.12L1722.3 441.93M1542.7 391.12L1767.2 447.57M1542.7 391.12L1677.4 458.87M1542.7 391.12L1722.3 458.87M1542.7 391.12L1767.2 458.87M1542.7 391.12L1677.4 464.51" stroke="#f00" stroke-opacity="0.8" stroke-width="2.5" stroke-dasharray="9.2 4" fill="none"/>
<circle cx="1273.3" cy="475.8" r="4.2" fill="#f00" fill-opacity="0.85"/>
<circle cx="1273.3" cy="481.44" r="4.2" fill="#f00" fill-opacity="0.85"/>
<circle cx="1318.2" cy="447.57" r="4.2" fill="#f00" fill-opacity="0.85"/>
<circle cx="1318.2" cy="458.87" r="4.2" fill="#f00" fill-opacity="0.85"/>
<circle cx="1318.2" cy="464.51" r="4.2" fill="#f00" fill-opacity="0.85"/>
<circle cx="1318.2" cy="464.51" r="4.2" fill="#f00" fill-opacity="0.85"/>
<circle cx="1318.2" cy="470.15" r="4.2" fill="#f00" fill-opacity="0.85"/>
<circle cx="1318.2" cy="470.15" r="4.2" fill="#f00" fill-opacity="0.85"/>
<circle cx="1318.2" cy="475.8" r="4.2" fill="#f00" fill-opacity="0.85"/>
<circle cx="1318.2" cy="475.8" r="4.2" fill="#f00" fill-opacity="0.85"/>
<circle cx="1318.2" cy="487.09" r="4.2" fill="#f00" fill-opacity="0.85"/>
<circle cx="1408" cy="458.87" r="4.2" fill="#f00" fill-opacity="0.85"/>
<circle cx="1497.8" cy="458.87" r="4.2" fill="#f00" fill-opacity="0.85"/>
<circle cx="1632.5" cy="464.51" r="4.2" fill="#f00" fill-opacity="0.85"/>
<circle cx="1677.4" cy="425" r="4.2" fill="#f00" fill-opacity="0.85"/>
<circle cx="1677.4" cy="464.51" r="4.2" fill="#f00" fill-opacity="0.85"/>
<circle cx="1677.4" cy="464.51" r="4.2" fill="#f00" fill-opacity="0.85"/>
<circle cx="1722.3" cy="425" r="4.2" fill="#f00" fill-opacity="0.85"/>
<circle cx="1722.3" cy="441.93" r="4.2" fill="#f00" fill-opacity="0.85"/>
<circle cx="1767.2" cy="436.28" r="4.2" fill="#f00" fill-opacity="0.85"/>
<circle cx="1767.2" cy="447.57" r="4.2" fill="#f00" fill-opacity="0.85"/>
<circle cx="1677.4" cy="458.87" r="4.2" fill="#f00" fill-opacity="0.85"/>
<circle cx="1677.4" cy="458.87" r="4.2" fill="#f00" fill-opacity="0.85"/>
<circle cx="1722.3" cy="458.87" r="4.2" fill="#f00" fill-opacity="0.85"/>
<circle cx="1767.2" cy="458.87" r="4.2" fill="#f00" fill-opacity="0.85"/>
<circle cx="1677.4" cy="425" r="4.2" fill="#f00" fill-opacity="0.85"/>
<circle cx="1722.3" cy="425" r="4.2" fill="#f00" fill-opacity="0.85"/>
<circle cx="1767.2" cy="436.28" r="4.2" fill="#f00" fill-opacity="0.85"/>
<circle cx="1722.3" cy="441.93" r="4.2" fill="#f00" fill-opacity="0.85"/>
<circle cx="1767.2" cy="447.57" r="4.2" fill="#f00" fill-opacity="0.85"/>
<circle cx="1677.4" cy="458.87" r="4.2" fill="#f00" fill-opacity="0.85"/>
<circle cx="1722.3" cy="458.87" r="4.2" fill="#f00" fill-opacity="0.85"/>
<circle cx="1767.2" cy="458.87" r="4.2" fill="#f00" fill-opacity="0.85"/>
<circle cx="1677.4" cy="464.51" r="4.2" fill="#f00" fill-opacity="0.85"/>
<circle cx="1542.7" cy="391.12" r="4.1" fill="#f00"/>
<path d="M1542.7 391.12L1318.2 458.87M1542.7 391.12L1318.2 460.28M1542.7 391.12L1318.2 461.69M1542.7 391.12L1318.2 463.1M1542.7 391.12L1318.2 464.51M1542.7 391.12L1318.2 465.92M1542.7 391.12L1318.2 467.33M1542.7 391.12L1318.2 468.74M1542.7 391.12L1318.2 470.15M1542.7 391.12L1318.2 471.57M1542.7 391.12L1318.2 472.98M1542.7 391.12L1318.2 474.39M1542.7 391.12L1318.2 475.8" stroke="#f00" stroke-opacity="0.8" stroke-width="2.5" stroke-dasharray="9.2 4" fill="none"/>
<path d="M1340.65 137.1L1343.64 197.34" stroke="#f00" stroke-width="2.1" fill="none"/>
<path d="M1345.2 228.8L1332.9 197.87L1354.38 196.81Z" fill="#f00"/>
<path d="M1744.75 137.1L1715.36 199.87" stroke="#f00" stroke-width="2.1" fill="none"/>
<path d="M1702 228.4L1705.62 195.31L1725.09 204.43Z" fill="#f00"/>
<path d="M1542.7 391.12L1529.16 298.57" stroke="#f00" stroke-width="2.1" fill="none"/>
<path d="M1524.6 267.4L1539.8 297.01L1518.52 300.12Z" fill="#f00"/>
</g>
<path d="M1408 509.4v-9.6M1408 19.1v9.6M1632.5 509.4v-9.6M1632.5 19.1v9.6M1228.4 509.4v-4.8M1228.4 19.1v4.8M1273.3 509.4v-4.8M1273.3 19.1v4.8M1318.2 509.4v-4.8M1318.2 19.1v4.8M1363.1 509.4v-4.8M1363.1 19.1v4.8M1452.9 509.4v-4.8M1452.9 19.1v4.8M1497.8 509.4v-4.8M1497.8 19.1v4.8M1542.7 509.4v-4.8M1542.7 19.1v4.8M1587.6 509.4v-4.8M1587.6 19.1v4.8M1677.4 509.4v-4.8M1677.4 19.1v4.8M1722.3 509.4v-4.8M1722.3 19.1v4.8M1767.2 509.4v-4.8M1767.2 19.1v4.8M1201.3 475.8h9.6M1794.8 475.8h-9.6M1201.3 362.9h9.6M1794.8 362.9h-9.6M1201.3 250h9.6M1794.8 250h-9.6M1201.3 137.1h9.6M1794.8 137.1h-9.6M1201.3 24.2h9.6M1794.8 24.2h-9.6M1201.3 504.02h4.8M1794.8 504.02h-4.8M1201.3 447.57h4.8M1794.8 447.57h-4.8M1201.3 419.35h4.8M1794.8 419.35h-4.8M1201.3 391.12h4.8M1794.8 391.12h-4.8M1201.3 334.67h4.8M1794.8 334.67h-4.8M1201.3 306.45h4.8M1794.8 306.45h-4.8M1201.3 278.23h4.8M1794.8 278.23h-4.8M1201.3 221.77h4.8M1794.8 221.77h-4.8M1201.3 193.55h4.8M1794.8 193.55h-4.8M1201.3 165.32h4.8M1794.8 165.32h-4.8M1201.3 108.88h4.8M1794.8 108.88h-4.8M1201.3 80.65h4.8M1794.8 80.65h-4.8M1201.3 52.42h4.8M1794.8 52.42h-4.8" stroke="#000" stroke-width="1.7" fill="none"/>
<rect x="1201.3" y="19.1" width="593.5" height="490.3" fill="none" stroke="#000" stroke-width="1.8"/>
<text x="1408" y="544.5" font-size="33.5" text-anchor="middle">50</text>
<text x="1632.5" y="544.5" font-size="33.5" text-anchor="middle">55</text>
<text x="1185" y="486.8" font-size="33.5" text-anchor="end">40</text>
<text x="1185" y="373.9" font-size="33.5" text-anchor="end">60</text>
<text x="1185" y="261" font-size="33.5" text-anchor="end">80</text>
<text x="1185" y="148.1" font-size="33.5" text-anchor="end">100</text>
<text x="1185" y="35.2" font-size="33.5" text-anchor="end">120</text>
<g transform="translate(1111 257.2) scale(1.08 1)"><text x="0" y="0" font-size="36"><tspan font-style="italic">p</tspan><tspan font-size="25" dx="1" dy="5.7">2</tspan></text></g>
<g transform="translate(1482.5 592) scale(1.08 1)"><text x="0" y="0" font-size="36"><tspan font-style="italic">p</tspan><tspan font-size="25" dx="1" dy="5.7">1</tspan></text></g>
<text x="1556" y="681.6" font-size="47" text-anchor="middle">(b)</text>
<text x="1344.6" y="256.8" font-size="26.8" text-anchor="middle">Population 1</text>
<text x="1524.2" y="256.8" font-size="26.8" text-anchor="middle">Population 2</text>
<text x="1700.6" y="256.8" font-size="26.8" text-anchor="middle">Population 3</text>
<rect x="1831.9" y="346.03" width="24.5" height="163.67" fill="#1f77b4" fill-opacity="0.6"/>
<rect x="1831.9" y="182.67" width="24.5" height="163.67" fill="#ff7f0e" fill-opacity="0.6"/>
<rect x="1831.9" y="19.3" width="24.5" height="163.67" fill="#2ca02c" fill-opacity="0.6"/>
<path d="M1856.4 460.39h-5M1856.4 411.38h-5M1856.4 362.37h-5M1856.4 313.36h-5M1856.4 264.35h-10M1856.4 215.34h-5M1856.4 166.33h-5M1856.4 117.32h-5M1856.4 68.31h-5" stroke="#000" stroke-width="1.5" fill="none"/>
<rect x="1831.9" y="19.3" width="24.5" height="490.1" fill="none" stroke="#000" stroke-width="1.5"/>
<text x="1866.9" y="520.45" font-size="33.5" text-anchor="start">2</text>
<text x="1866.9" y="275.41" font-size="33.5" text-anchor="start">3</text>
<text x="1866.9" y="30.36" font-size="33.5" text-anchor="start">4</text>
<g transform="translate(1886 46.3) scale(0.98 1)"><text x="0" y="0" font-size="36"><tspan font-style="italic">q</tspan><tspan font-size="25" dx="1" dy="5.7">2</tspan></text></g>
<g transform="translate(1941 76.8) scale(0.98 1)"><text x="0" y="0" font-size="36"><tspan font-style="italic">q</tspan><tspan font-size="25" dx="1" dy="5.7">1</tspan></text></g>
<circle cx="1947.4" cy="141.8" r="32.4" fill="#000"/>
<text x="1982.5" y="151.2" font-size="33.5" text-anchor="start">7</text>
<circle cx="1947.4" cy="214" r="26.3" fill="#000"/>
<text x="1982.5" y="223.4" font-size="33.5" text-anchor="start">6</text>
<circle cx="1947.4" cy="285.6" r="10.3" fill="#000"/>
<text x="1982.5" y="295" font-size="33.5" text-anchor="start">3</text>
<clipPath id="cc"><rect x="138.35" y="792.4" width="770.7" height="574.5"/></clipPath>
<g clip-path="url(#cc)">
<g fill="none" stroke-width="1.9" stroke-opacity="0.82" stroke-linejoin="round">
<polyline points="215.4,893.07 369.57,861.15 523.74,967.56 677.91,1192.09 832.08,1339" stroke="#0C5DA5"/>
<polyline points="215.4,884.67 369.57,872.9 523.74,1025.47 677.91,1230.85 832.08,1341.48" stroke="#00B945"/>
<polyline points="215.4,869.18 369.57,867.77 523.74,958.66 677.91,1184.6 832.08,1337.1" stroke="#FF9500"/>
<polyline points="215.4,888 369.57,842.25 523.74,941.09 677.91,1162.26 832.08,1338.59" stroke="#FF2C00"/>
<polyline points="215.4,893.45 369.57,867.08 523.74,997.75 677.91,1220.61 832.08,1338.92" stroke="#845B97"/>
<polyline points="215.4,888.7 369.57,859.57 523.74,932.36 677.91,1161.97 832.08,1338.64" stroke="#474747"/>
<polyline points="215.4,887.11 369.57,863.48 523.74,926.5 677.91,1149.84 832.08,1338.33" stroke="#9e9e9e"/>
<polyline points="215.4,875.62 369.57,863.58 523.74,907.47 677.91,1121.24 832.08,1335.09" stroke="#0C5DA5"/>
<polyline points="215.4,891.14 369.57,834.99 523.74,919.58 677.91,1142.2 832.08,1336.58" stroke="#00B945"/>
<polyline points="215.4,885.34 369.57,872.9 523.74,995.52 677.91,1210.69 832.08,1338.92" stroke="#FF9500"/>
<polyline points="215.4,890.4 369.57,850.89 523.74,881.12 677.91,1087.19 832.08,1337.23" stroke="#FF2C00"/>
<polyline points="215.4,859.72 369.57,858.75 523.74,893.6 677.91,1117.41 832.08,1336.18" stroke="#845B97"/>
<polyline points="215.4,855.2 369.57,850.66 523.74,931.2 677.91,1156.38 832.08,1337.28" stroke="#474747"/>
<polyline points="215.4,886.12 369.57,872.2 523.74,1038.13 677.91,1230.85 832.08,1338.77" stroke="#9e9e9e"/>
<polyline points="215.4,892.24 369.57,865.95 523.74,1002.18 677.91,1225.24 832.08,1339.26" stroke="#0C5DA5"/>
<polyline points="215.4,864.96 369.57,853.76 523.74,945 677.91,1174.42 832.08,1338.37" stroke="#00B945"/>
<polyline points="215.4,864.89 369.57,851.84 523.74,964.47 677.91,1191.54 832.08,1339.23" stroke="#FF9500"/>
<polyline points="215.4,885.45 369.57,863.1 523.74,976.22 677.91,1206.48 832.08,1339.09" stroke="#FF2C00"/>
<polyline points="215.4,881.89 369.57,851.78 523.74,963.54 677.91,1189.03 832.08,1338.31" stroke="#845B97"/>
<polyline points="215.4,894.26 369.57,844.08 523.74,927.1 677.91,1145.15 832.08,1336.66" stroke="#474747"/>
<polyline points="215.4,887.93 369.57,868.63 523.74,961.5 677.91,1189.8 832.08,1339.8" stroke="#9e9e9e"/>
<polyline points="215.4,892.95 369.57,866.02 523.74,981.04 677.91,1210.83 832.08,1340.39" stroke="#0C5DA5"/>
<polyline points="215.4,888.96 369.57,872.9 523.74,1010.89 677.91,1222.68 832.08,1341.14" stroke="#00B945"/>
<polyline points="215.4,889.42 369.57,865.51 523.74,973.88 677.91,1195.36 832.08,1337.51" stroke="#FF9500"/>
<polyline points="215.4,885.48 369.57,868.12 523.74,954.99 677.91,1183.2 832.08,1338.91" stroke="#FF2C00"/>
<polyline points="215.4,892.96 369.57,865.86 523.74,897.24 677.91,1108.25 832.08,1338.34" stroke="#845B97"/>
<polyline points="215.4,894.63 369.57,861.26 523.74,945.89 677.91,1167.98 832.08,1337.52" stroke="#474747"/>
<polyline points="215.4,888.87 369.57,868.8 523.74,973.1 677.91,1196.79 832.08,1338.16" stroke="#9e9e9e"/>
<polyline points="215.4,892.39 369.57,857.26 523.74,967.04 677.91,1190.02 832.08,1337.85" stroke="#0C5DA5"/>
<polyline points="215.4,873.69 369.57,863.63 523.74,900.54 677.91,1117.21 832.08,1338.64" stroke="#00B945"/>
<polyline points="215.4,891.39 369.57,869.63 523.74,1036.17 677.91,1230.85 832.08,1339.71" stroke="#FF9500"/>
<polyline points="215.4,855.69 369.57,834.17 523.74,856.94 677.91,1071.62 832.08,1337.76" stroke="#FF2C00"/>
<polyline points="215.4,892.54 369.57,862.93 523.74,983.79 677.91,1202.27 832.08,1339.03" stroke="#845B97"/>
<polyline points="215.4,870.93 369.57,866.22 523.74,930.38 677.91,1148.66 832.08,1336.88" stroke="#474747"/>
<polyline points="215.4,885.65 369.57,864.59 523.74,916.67 677.91,1139.17 832.08,1336.11" stroke="#9e9e9e"/>
<polyline points="215.4,888.03 369.57,858.79 523.74,842.17 677.91,1065.81 832.08,1337.83" stroke="#0C5DA5"/>
<polyline points="215.4,893.07 369.57,857.63 523.74,1002.87 677.91,1224.69 832.08,1338.39" stroke="#00B945"/>
<polyline points="215.4,877.59 369.57,859.89 523.74,838.37 677.91,1065.81 832.08,1338.3" stroke="#FF9500"/>
<polyline points="215.4,877.95 369.57,855.82 523.74,842.51 677.91,1065.81 832.08,1333.83" stroke="#FF2C00"/>
<polyline points="215.4,892.48 369.57,863.3 523.74,898.1 677.91,1117.51 832.08,1336.98" stroke="#845B97"/>
<polyline points="215.4,887.36 369.57,869.72 523.74,973.25 677.91,1198.61 832.08,1338.94" stroke="#474747"/>
<polyline points="215.4,863.24 369.57,862.87 523.74,940.21 677.91,1165.77 832.08,1337.92" stroke="#9e9e9e"/>
<polyline points="215.4,894.75 369.57,863.02 523.74,948.67 677.91,1180.97 832.08,1337.26" stroke="#0C5DA5"/>
<polyline points="215.4,885.78 369.57,861.32 523.74,989.92 677.91,1213.01 832.08,1339" stroke="#00B945"/>
<polyline points="215.4,871.8 369.57,866.72 523.74,944.15 677.91,1173.78 832.08,1338.67" stroke="#FF9500"/>
<polyline points="215.4,884.65 369.57,857.53 523.74,912.92 677.91,1118.72 832.08,1337.6" stroke="#FF2C00"/>
<polyline points="215.4,884.76 369.57,860.75 523.74,936.09 677.91,1161.43 832.08,1337.82" stroke="#845B97"/>
<polyline points="215.4,860 369.57,858.03 523.74,953.93 677.91,1178.08 832.08,1338.89" stroke="#474747"/>
<polyline points="215.4,859.85 369.57,852.39 523.74,943.58 677.91,1174.72 832.08,1338.28" stroke="#9e9e9e"/>
<polyline points="215.4,892.28 369.57,872.9 523.74,1020.47 677.91,1226.05 832.08,1338.35" stroke="#0C5DA5"/>
<polyline points="215.4,874.81 369.57,862.77 523.74,994.83 677.91,1208.67 832.08,1337.9" stroke="#00B945"/>
<polyline points="215.4,859.01 369.57,865.33 523.74,978.76 677.91,1197.6 832.08,1338.12" stroke="#FF9500"/>
<polyline points="215.4,886.99 369.57,864.36 523.74,992.87 677.91,1216.96 832.08,1339.69" stroke="#FF2C00"/>
<polyline points="215.4,894.74 369.57,858.35 523.74,920.61 677.91,1148.31 832.08,1338.11" stroke="#845B97"/>
<polyline points="215.4,884.44 369.57,866.81 523.74,934.48 677.91,1155.17 832.08,1335.75" stroke="#474747"/>
<polyline points="215.4,891.79 369.57,872.9 523.74,1009.83 677.91,1227.41 832.08,1341.25" stroke="#9e9e9e"/>
<polyline points="215.4,862.64 369.57,855.89 523.74,958.86 677.91,1187.26 832.08,1337.2" stroke="#0C5DA5"/>
<polyline points="215.4,875.56 369.57,866.87 523.74,942.01 677.91,1165.55 832.08,1338.29" stroke="#00B945"/>
<polyline points="215.4,860.29 369.57,863.56 523.74,1020.51 677.91,1230.85 832.08,1338.45" stroke="#FF9500"/>
<polyline points="215.4,866.58 369.57,865.63 523.74,1022.49 677.91,1230.85 832.08,1338.3" stroke="#FF2C00"/>
<polyline points="215.4,893.32 369.57,863.59 523.74,972.5 677.91,1199.93 832.08,1339.97" stroke="#845B97"/>
<polyline points="215.4,892.56 369.57,868.07 523.74,1028.14 677.91,1230.85 832.08,1340.52" stroke="#474747"/>
<polyline points="215.4,892.79 369.57,864.21 523.74,951.97 677.91,1181.31 832.08,1339.51" stroke="#9e9e9e"/>
<polyline points="215.4,882.61 369.57,864.57 523.74,919.06 677.91,1131.35 832.08,1338.66" stroke="#0C5DA5"/>
<polyline points="215.4,886.98 369.57,858.52 523.74,900.36 677.91,1115.94 832.08,1337.25" stroke="#00B945"/>
<polyline points="215.4,856.22 369.57,863.12 523.74,925.47 677.91,1145.33 832.08,1337.26" stroke="#FF9500"/>
<polyline points="215.4,889.42 369.57,869.68 523.74,960.41 677.91,1188.89 832.08,1337.82" stroke="#FF2C00"/>
<polyline points="215.4,892.94 369.57,871.02 523.74,973.59 677.91,1195.04 832.08,1338.45" stroke="#845B97"/>
<polyline points="215.4,892.27 369.57,866.11 523.74,971.26 677.91,1197.64 832.08,1338.91" stroke="#474747"/>
<polyline points="215.4,858.16 369.57,853.79 523.74,972.91 677.91,1199.18 832.08,1337.56" stroke="#9e9e9e"/>
<polyline points="215.4,889.16 369.57,872.56 523.74,968.82 677.91,1193.4 832.08,1338.72" stroke="#0C5DA5"/>
<polyline points="215.4,884.79 369.57,872.9 523.74,982.79 677.91,1211.02 832.08,1339.21" stroke="#00B945"/>
<polyline points="215.4,894.7 369.57,868.35 523.74,1031.23 677.91,1230.85 832.08,1339.29" stroke="#FF9500"/>
<polyline points="215.4,877.58 369.57,853.51 523.74,916.64 677.91,1138.01 832.08,1338.04" stroke="#FF2C00"/>
<polyline points="215.4,893.09 369.57,844.79 523.74,836.41 677.91,1065.81 832.08,1333.83" stroke="#845B97"/>
<polyline points="215.4,879.01 369.57,847.74 523.74,874.94 677.91,1094.4 832.08,1336.97" stroke="#474747"/>
<polyline points="215.4,868.62 369.57,855.18 523.74,951.37 677.91,1178.18 832.08,1337.02" stroke="#9e9e9e"/>
<polyline points="215.4,875.89 369.57,864.41 523.74,926.15 677.91,1153.53 832.08,1338.15" stroke="#0C5DA5"/>
<polyline points="215.4,868.56 369.57,864.22 523.74,1009.78 677.91,1221.79 832.08,1338.78" stroke="#00B945"/>
<polyline points="215.4,894.97 369.57,855.54 523.74,952.93 677.91,1180.74 832.08,1338.21" stroke="#FF9500"/>
<polyline points="215.4,894.1 369.57,854.75 523.74,929.48 677.91,1158.3 832.08,1338.46" stroke="#FF2C00"/>
<polyline points="215.4,892.53 369.57,852.87 523.74,919.59 677.91,1141.12 832.08,1337.93" stroke="#845B97"/>
<polyline points="215.4,876.34 369.57,856.4 523.74,953.84 677.91,1180.72 832.08,1339.34" stroke="#474747"/>
<polyline points="215.4,892.12 369.57,861.21 523.74,996.83 677.91,1214.28 832.08,1341.48" stroke="#9e9e9e"/>
<polyline points="215.4,891.69 369.57,863.21 523.74,1024.55 677.91,1230.35 832.08,1340.45" stroke="#0C5DA5"/>
<polyline points="215.4,886.04 369.57,862.76 523.74,949.65 677.91,1172.13 832.08,1338.94" stroke="#00B945"/>
<polyline points="215.4,860.47 369.57,865.02 523.74,839.34 677.91,1065.81 832.08,1333.83" stroke="#FF9500"/>
<polyline points="215.4,891.7 369.57,866.03 523.74,956.45 677.91,1185.04 832.08,1338.19" stroke="#FF2C00"/>
<polyline points="215.4,883.88 369.57,856.31 523.74,998.48 677.91,1211.79 832.08,1339.09" stroke="#845B97"/>
<polyline points="215.4,875.42 369.57,863.16 523.74,876.87 677.91,1085.29 832.08,1338.49" stroke="#474747"/>
<polyline points="215.4,885.26 369.57,866.02 523.74,1045.16 677.91,1230.85 832.08,1340.47" stroke="#9e9e9e"/>
<polyline points="215.4,868.25 369.57,872.44 523.74,968.24 677.91,1191.04 832.08,1339.93" stroke="#0C5DA5"/>
<polyline points="215.4,874.96 369.57,834.17 523.74,861.31 677.91,1071.25 832.08,1337.27" stroke="#00B945"/>
<polyline points="215.4,880.81 369.57,859.41 523.74,830.11 677.91,1065.81 832.08,1338.13" stroke="#FF9500"/>
<polyline points="215.4,868.64 369.57,868.04 523.74,1010.81 677.91,1228.41 832.08,1340.34" stroke="#FF2C00"/>
<polyline points="215.4,892.67 369.57,863.84 523.74,950.44 677.91,1173.21 832.08,1337.26" stroke="#845B97"/>
<polyline points="215.4,862.46 369.57,842.77 523.74,933.5 677.91,1154.86 832.08,1339.02" stroke="#474747"/>
<polyline points="215.4,886.44 369.57,852.07 523.74,919.17 677.91,1143.24 832.08,1338.79" stroke="#9e9e9e"/>
<polyline points="215.4,893.34 369.57,857.68 523.74,861.16 677.91,1073.67 832.08,1335.12" stroke="#0C5DA5"/>
<polyline points="215.4,891.94 369.57,849.94 523.74,840.14 677.91,1065.81 832.08,1337.11" stroke="#00B945"/>
<polyline points="215.4,836.54 369.57,834.93 523.74,891.99 677.91,1150.5 832.08,1337.8" stroke="#FF9500"/>
<polyline points="215.4,857.85 369.57,818.54 523.74,843.22 677.91,1079.78 832.08,1335.84" stroke="#00B945"/>
<polyline points="215.4,865.17 369.57,832.49 523.74,829.56 677.91,1065 832.08,1334.87" stroke="#00B945"/>
<polyline points="215.4,862.73 369.57,838.34 523.74,835.9 677.91,1072.46 832.08,1335.84" stroke="#00B945"/>
<polyline points="215.4,877.36 369.57,843.22 523.74,848.09 677.91,1101.72 832.08,1335.84" stroke="#474747"/>
<polyline points="215.4,879.8 369.57,840.78 523.74,852.97 677.91,1106.6 832.08,1336.82" stroke="#474747"/>
<polyline points="215.4,882.24 369.57,848.09 523.74,865.17 677.91,1116.36 832.08,1336.82" stroke="#0C5DA5"/>
<polyline points="215.4,891.99 369.57,872.97 523.74,1046.51 677.91,1231.22 832.08,1339.75" stroke="#FF9500"/>
<polyline points="215.4,889.55 369.57,871.51 523.74,1042.22 677.91,1228.54 832.08,1339.75" stroke="#00B945"/>
<polyline points="215.4,887.12 369.57,870.04 523.74,1033.44 677.91,1223.66 832.08,1339.75" stroke="#474747"/>
</g>
<path d="M215.4 873.21V854.53M215.4 892.24V895.02M190.65 854.53h49.5M190.65 895.02h49.5" stroke="#000" stroke-width="3.6" fill="none"/>
<rect x="168.9" y="873.21" width="93" height="19.02" fill="#ffff00" fill-opacity="0.85" stroke="#1c1c10" stroke-opacity="0.9" stroke-width="3.6"/>
<path d="M168.9 885.02h93" stroke="#f00" stroke-width="3.6" fill="none"/>
<path d="M168.9 880.48h93" stroke="#00f" stroke-width="3.6" stroke-dasharray="13.3 5.8" fill="none"/>
<path d="M369.57 855.17V833.95M369.57 865.95V872.97M344.82 833.95h49.5M344.82 872.97h49.5" stroke="#000" stroke-width="3.6" fill="none"/>
<rect x="323.07" y="855.17" width="93" height="10.78" fill="#ffff00" fill-opacity="0.85" stroke="#1c1c10" stroke-opacity="0.9" stroke-width="3.6"/>
<path d="M323.07 862.48h93" stroke="#f00" stroke-width="3.6" fill="none"/>
<path d="M323.07 858.97h93" stroke="#00f" stroke-width="3.6" stroke-dasharray="13.3 5.8" fill="none"/>
<path d="M523.74 916.67V829.56M523.74 974.08V1046.51M498.99 829.56h49.5M498.99 1046.51h49.5" stroke="#000" stroke-width="3.6" fill="none"/>
<rect x="477.24" y="916.67" width="93" height="57.41" fill="#ffff00" fill-opacity="0.85" stroke="#1c1c10" stroke-opacity="0.9" stroke-width="3.6"/>
<path d="M477.24 951.99h93" stroke="#f00" stroke-width="3.6" fill="none"/>
<path d="M477.24 945.5h93" stroke="#00f" stroke-width="3.6" stroke-dasharray="13.3 5.8" fill="none"/>
<path d="M677.91 1143.33V1065M677.91 1194.98V1231.22M653.16 1065h49.5M653.16 1231.22h49.5" stroke="#000" stroke-width="3.6" fill="none"/>
<rect x="631.41" y="1143.33" width="93" height="51.65" fill="#ffff00" fill-opacity="0.85" stroke="#1c1c10" stroke-opacity="0.9" stroke-width="3.6"/>
<path d="M631.41 1180.01h93" stroke="#f00" stroke-width="3.6" fill="none"/>
<path d="M631.41 1166.89h93" stroke="#00f" stroke-width="3.6" stroke-dasharray="13.3 5.8" fill="none"/>
<path d="M832.08 1337.02V1333.8M832.08 1339.21V1341.5M807.33 1333.8h49.5M807.33 1341.5h49.5" stroke="#000" stroke-width="3.6" fill="none"/>
<rect x="785.58" y="1337.02" width="93" height="2.19" fill="#ffff00" fill-opacity="0.85" stroke="#1c1c10" stroke-opacity="0.9" stroke-width="3.6"/>
<path d="M785.58 1338.28h93" stroke="#f00" stroke-width="3.6" fill="none"/>
<path d="M785.58 1338.04h93" stroke="#00f" stroke-width="3.6" stroke-dasharray="13.3 5.8" fill="none"/>
<circle cx="215.4" cy="836.54" r="4" fill="#f00" stroke="#000" stroke-width="4"/>
<circle cx="369.57" cy="818.54" r="4" fill="#f00" stroke="#000" stroke-width="4"/>
<circle cx="369.57" cy="832.49" r="4" fill="#f00" stroke="#000" stroke-width="4"/>
</g>
<path d="M215.4 1366.9v-12M215.4 792.4v12M369.57 1366.9v-12M369.57 792.4v12M523.74 1366.9v-12M523.74 792.4v12M677.91 1366.9v-12M677.91 792.4v12M832.08 1366.9v-12M832.08 792.4v12M153.73 1366.9v-6M153.73 792.4v6M184.57 1366.9v-6M184.57 792.4v6M246.23 1366.9v-6M246.23 792.4v6M277.07 1366.9v-6M277.07 792.4v6M307.9 1366.9v-6M307.9 792.4v6M338.74 1366.9v-6M338.74 792.4v6M400.4 1366.9v-6M400.4 792.4v6M431.24 1366.9v-6M431.24 792.4v6M462.07 1366.9v-6M462.07 792.4v6M492.91 1366.9v-6M492.91 792.4v6M554.57 1366.9v-6M554.57 792.4v6M585.41 1366.9v-6M585.41 792.4v6M616.24 1366.9v-6M616.24 792.4v6M647.08 1366.9v-6M647.08 792.4v6M708.74 1366.9v-6M708.74 792.4v6M739.58 1366.9v-6M739.58 792.4v6M770.41 1366.9v-6M770.41 792.4v6M801.25 1366.9v-6M801.25 792.4v6M862.91 1366.9v-6M862.91 792.4v6M893.75 1366.9v-6M893.75 792.4v6M138.35 1345.6h12M909.05 1345.6h-12M138.35 1248.05h12M909.05 1248.05h-12M138.35 1150.5h12M909.05 1150.5h-12M138.35 1052.95h12M909.05 1052.95h-12M138.35 955.4h12M909.05 955.4h-12M138.35 857.85h12M909.05 857.85h-12M138.35 1321.21h6M909.05 1321.21h-6M138.35 1296.82h6M909.05 1296.82h-6M138.35 1272.44h6M909.05 1272.44h-6M138.35 1223.66h6M909.05 1223.66h-6M138.35 1199.27h6M909.05 1199.27h-6M138.35 1174.89h6M909.05 1174.89h-6M138.35 1126.11h6M909.05 1126.11h-6M138.35 1101.72h6M909.05 1101.72h-6M138.35 1077.34h6M909.05 1077.34h-6M138.35 1028.56h6M909.05 1028.56h-6M138.35 1004.17h6M909.05 1004.17h-6M138.35 979.79h6M909.05 979.79h-6M138.35 931.01h6M909.05 931.01h-6M138.35 906.62h6M909.05 906.62h-6M138.35 882.24h6M909.05 882.24h-6M138.35 833.46h6M909.05 833.46h-6M138.35 809.07h6M909.05 809.07h-6" stroke="#000" stroke-width="1.9" fill="none"/>
<rect x="138.35" y="792.4" width="770.7" height="574.5" fill="none" stroke="#000" stroke-width="2"/>
<text x="122" y="1359.2" font-size="40" text-anchor="end">0.0</text>
<text x="122" y="1261.65" font-size="40" text-anchor="end">0.2</text>
<text x="122" y="1164.1" font-size="40" text-anchor="end">0.4</text>
<text x="122" y="1066.55" font-size="40" text-anchor="end">0.6</text>
<text x="122" y="969" font-size="40" text-anchor="end">0.8</text>
<text x="122" y="871.45" font-size="40" text-anchor="end">1.0</text>
<g transform="translate(216.2 1409.2) scale(1.16 1)"><text x="0" y="0" font-size="42" text-anchor="middle"><tspan font-style="italic">S</tspan><tspan font-style="italic" font-size="29" dx="0.5" dy="5">F</tspan></text></g>
<g transform="translate(370.37 1409.2) scale(1.16 1)"><text x="0" y="0" font-size="42" text-anchor="middle"><tspan font-style="italic">S</tspan><tspan font-style="italic" font-size="29" dx="0.5" dy="5">P</tspan></text></g>
<g transform="translate(524.54 1409.2) scale(1.16 1)"><text x="0" y="0" font-size="42" text-anchor="middle"><tspan font-style="italic">S</tspan><tspan font-style="italic" font-size="29" dx="0.5" dy="5">G</tspan></text></g>
<g transform="translate(678.71 1409.2) scale(1.16 1)"><text x="0" y="0" font-size="42" text-anchor="middle"><tspan font-style="italic">S</tspan><tspan font-style="italic" font-size="29" dx="0.5" dy="5">A</tspan></text></g>
<g transform="translate(832.88 1409.2) scale(1.16 1)"><text x="0" y="0" font-size="42" text-anchor="middle"><tspan font-style="italic">S</tspan><tspan font-style="italic" font-size="29" dx="0.5" dy="5">L</tspan></text></g>
<g transform="translate(14.9 1082.4) scale(0.8 1.18)"><text x="0" y="0" font-size="41" text-anchor="middle">[</text></g>
<g transform="translate(46.1 1082.4) scale(0.8 1.18)"><text x="0" y="0" font-size="41" text-anchor="middle">]</text></g>
<g transform="translate(30.8 1081.8) scale(1.15 1)"><text x="0" y="0" font-size="41" text-anchor="middle" font-style="italic">S</text></g>
<path d="M6.5 1091.6h48" stroke="#000" stroke-width="2"/>
<g transform="translate(30.8 1125.6) scale(1.18 1)"><text x="0" y="0" font-size="41" text-anchor="middle" font-style="italic">S</text></g>
<text x="492" y="1491.5" font-size="47" text-anchor="middle">(c)</text>
<clipPath id="cd"><rect x="1202.6" y="792.4" width="770.5" height="574.5"/></clipPath>
<g clip-path="url(#cd)">
<g fill="none" stroke-width="1.9" stroke-opacity="0.82" stroke-linejoin="round">
<polyline points="1279.7,885.24 1433.73,842.67 1587.76,854.74 1741.79,1145.88 1895.82,1337.36" stroke="#0C5DA5"/>
<polyline points="1279.7,887.12 1433.73,847.41 1587.76,837.55 1741.79,1167.85 1895.82,1338.5" stroke="#00B945"/>
<polyline points="1279.7,884.12 1433.73,847.09 1587.76,891.37 1741.79,1141.96 1895.82,1336.9" stroke="#FF9500"/>
<polyline points="1279.7,883.56 1433.73,857.03 1587.76,891.37 1741.79,1143.14 1895.82,1338.9" stroke="#FF2C00"/>
<polyline points="1279.7,890.12 1433.73,866.08 1587.76,856.64 1741.79,1153.69 1895.82,1337.06" stroke="#845B97"/>
<polyline points="1279.7,883.95 1433.73,847.78 1587.76,842.82 1741.79,1146.08 1895.82,1338.02" stroke="#474747"/>
<polyline points="1279.7,878.92 1433.73,841.29 1587.76,837.17 1741.79,1142.89 1895.82,1337.64" stroke="#9e9e9e"/>
<polyline points="1279.7,892.19 1433.73,846.12 1587.76,859.88 1741.79,1142.01 1895.82,1338" stroke="#0C5DA5"/>
<polyline points="1279.7,879.31 1433.73,860.34 1587.76,866.91 1741.79,1134.07 1895.82,1337.15" stroke="#00B945"/>
<polyline points="1279.7,884.48 1433.73,857.13 1587.76,841.77 1741.79,1135.57 1895.82,1337.56" stroke="#FF9500"/>
<polyline points="1279.7,889.52 1433.73,843.9 1587.76,840.08 1741.79,1170.16 1895.82,1339.52" stroke="#FF2C00"/>
<polyline points="1279.7,893.08 1433.73,846.25 1587.76,880.63 1741.79,1151.78 1895.82,1338.05" stroke="#845B97"/>
<polyline points="1279.7,884.53 1433.73,863.33 1587.76,846 1741.79,1166.41 1895.82,1338.02" stroke="#474747"/>
<polyline points="1279.7,889.63 1433.73,843 1587.76,836.53 1741.79,1157.26 1895.82,1336.95" stroke="#9e9e9e"/>
<polyline points="1279.7,888.35 1433.73,845.44 1587.76,845.98 1741.79,1166.57 1895.82,1336.86" stroke="#0C5DA5"/>
<polyline points="1279.7,889.77 1433.73,846.22 1587.76,864.8 1741.79,1157.52 1895.82,1341.07" stroke="#00B945"/>
<polyline points="1279.7,886.78 1433.73,859.21 1587.76,849.09 1741.79,1157.75 1895.82,1338.04" stroke="#FF9500"/>
<polyline points="1279.7,883.57 1433.73,846.31 1587.76,821.69 1741.79,1145.47 1895.82,1337.87" stroke="#FF2C00"/>
<polyline points="1279.7,880.06 1433.73,852.43 1587.76,868.98 1741.79,1137.39 1895.82,1336.66" stroke="#845B97"/>
<polyline points="1279.7,882.1 1433.73,845.03 1587.76,848.28 1741.79,1154.17 1895.82,1340.75" stroke="#474747"/>
<polyline points="1279.7,882.57 1433.73,859.98 1587.76,843.47 1741.79,1164.37 1895.82,1337.24" stroke="#9e9e9e"/>
<polyline points="1279.7,887.61 1433.73,856.91 1587.76,839.18 1741.79,1156.62 1895.82,1338.06" stroke="#0C5DA5"/>
<polyline points="1279.7,881.53 1433.73,846.79 1587.76,865.43 1741.79,1138.41 1895.82,1338.16" stroke="#00B945"/>
<polyline points="1279.7,890.82 1433.73,853.26 1587.76,891.37 1741.79,1169.52 1895.82,1338.55" stroke="#FF9500"/>
<polyline points="1279.7,889.44 1433.73,851.54 1587.76,823.86 1741.79,1137.05 1895.82,1337.11" stroke="#FF2C00"/>
<polyline points="1279.7,883.74 1433.73,857.31 1587.76,891.37 1741.79,1156.28 1895.82,1336.74" stroke="#845B97"/>
<polyline points="1279.7,879.23 1433.73,862.43 1587.76,843.17 1741.79,1143.36 1895.82,1336.89" stroke="#474747"/>
<polyline points="1279.7,881.01 1433.73,864.57 1587.76,850.8 1741.79,1143.36 1895.82,1336.89" stroke="#9e9e9e"/>
<polyline points="1279.7,882.22 1433.73,844.09 1587.76,818.82 1741.79,1144.96 1895.82,1336.9" stroke="#0C5DA5"/>
<polyline points="1279.7,879.33 1433.73,847.68 1587.76,830.77 1741.79,1134.85 1895.82,1336.99" stroke="#00B945"/>
<polyline points="1279.7,886.44 1433.73,846.91 1587.76,845.23 1741.79,1155.9 1895.82,1337.1" stroke="#FF9500"/>
<polyline points="1279.7,878.92 1433.73,844.11 1587.76,855.79 1741.79,1136.32 1895.82,1336.9" stroke="#FF2C00"/>
<polyline points="1279.7,882.16 1433.73,862.56 1587.76,838.5 1741.79,1162.36 1895.82,1337.34" stroke="#845B97"/>
<polyline points="1279.7,888.9 1433.73,846.27 1587.76,852.6 1741.79,1143.58 1895.82,1336.82" stroke="#474747"/>
<polyline points="1279.7,893.08 1433.73,855.75 1587.76,843.6 1741.79,1160.09 1895.82,1339.57" stroke="#9e9e9e"/>
<polyline points="1279.7,881.98 1433.73,847.47 1587.76,819.38 1741.79,1143.64 1895.82,1336.88" stroke="#0C5DA5"/>
<polyline points="1279.7,887.99 1433.73,845.98 1587.76,825.93 1741.79,1142.41 1895.82,1338.1" stroke="#00B945"/>
<polyline points="1279.7,887.41 1433.73,858.52 1587.76,851.97 1741.79,1139.44 1895.82,1336.84" stroke="#FF9500"/>
<polyline points="1279.7,879.36 1433.73,853.11 1587.76,873.36 1741.79,1143.73 1895.82,1337.83" stroke="#FF2C00"/>
<polyline points="1279.7,888.11 1433.73,847.38 1587.76,854.63 1741.79,1156.87 1895.82,1337.05" stroke="#845B97"/>
<polyline points="1279.7,883.82 1433.73,857.06 1587.76,887.3 1741.79,1134.07 1895.82,1338.12" stroke="#474747"/>
<polyline points="1279.7,883.81 1433.73,852.13 1587.76,832.76 1741.79,1155.99 1895.82,1338.17" stroke="#9e9e9e"/>
<polyline points="1279.7,891.74 1433.73,844.8 1587.76,869.24 1741.79,1157.32 1895.82,1340.03" stroke="#0C5DA5"/>
<polyline points="1279.7,885.69 1433.73,846.52 1587.76,842.54 1741.79,1139.43 1895.82,1336.72" stroke="#00B945"/>
<polyline points="1279.7,888.26 1433.73,847.65 1587.76,872.63 1741.79,1156.6 1895.82,1337.39" stroke="#FF9500"/>
<polyline points="1279.7,888.34 1433.73,853.23 1587.76,860.34 1741.79,1140.05 1895.82,1337.27" stroke="#FF2C00"/>
<polyline points="1279.7,882.22 1433.73,850.24 1587.76,833.7 1741.79,1137.95 1895.82,1338.79" stroke="#845B97"/>
<polyline points="1279.7,881.18 1433.73,855.79 1587.76,852.21 1741.79,1139.12 1895.82,1336.66" stroke="#474747"/>
<polyline points="1279.7,885.52 1433.73,844.18 1587.76,835.59 1741.79,1139.83 1895.82,1337.72" stroke="#9e9e9e"/>
<polyline points="1279.7,888.36 1433.73,845.74 1587.76,830.77 1741.79,1141.45 1895.82,1336.91" stroke="#0C5DA5"/>
<polyline points="1279.7,882.42 1433.73,842.76 1587.76,818.66 1741.79,1150.09 1895.82,1337.15" stroke="#00B945"/>
<polyline points="1279.7,881.99 1433.73,844.94 1587.76,862.86 1741.79,1163.69 1895.82,1337.83" stroke="#FF9500"/>
<polyline points="1279.7,882.31 1433.73,847.82 1587.76,891.37 1741.79,1140.03 1895.82,1339.33" stroke="#FF2C00"/>
<polyline points="1279.7,887.99 1433.73,850.61 1587.76,832.14 1741.79,1150.26 1895.82,1338.05" stroke="#845B97"/>
<polyline points="1279.7,882.97 1433.73,844.27 1587.76,841.29 1741.79,1138.41 1895.82,1337.5" stroke="#474747"/>
<polyline points="1279.7,888.25 1433.73,852.98 1587.76,847.89 1741.79,1143.76 1895.82,1336.81" stroke="#9e9e9e"/>
<polyline points="1279.7,884.73 1433.73,843.5 1587.76,847.96 1741.79,1148.2 1895.82,1337.65" stroke="#0C5DA5"/>
<polyline points="1279.7,879.24 1433.73,854.2 1587.76,824.98 1741.79,1134.07 1895.82,1337.14" stroke="#00B945"/>
<polyline points="1279.7,888.79 1433.73,847.39 1587.76,851.65 1741.79,1142.79 1895.82,1339.64" stroke="#FF9500"/>
<polyline points="1279.7,883.13 1433.73,847.67 1587.76,828.91 1741.79,1139.67 1895.82,1337.1" stroke="#FF2C00"/>
<polyline points="1279.7,889.61 1433.73,847.13 1587.76,856.3 1741.79,1135.89 1895.82,1336.73" stroke="#845B97"/>
<polyline points="1279.7,887.15 1433.73,862.54 1587.76,857.96 1741.79,1142.67 1895.82,1336.9" stroke="#474747"/>
<polyline points="1279.7,887.92 1433.73,857.4 1587.76,845.66 1741.79,1139.19 1895.82,1338.96" stroke="#9e9e9e"/>
<polyline points="1279.7,889.68 1433.73,855.15 1587.76,867.07 1741.79,1139.7 1895.82,1337.64" stroke="#0C5DA5"/>
<polyline points="1279.7,885.02 1433.73,862.57 1587.76,839.93 1741.79,1160.69 1895.82,1337.63" stroke="#00B945"/>
<polyline points="1279.7,890.38 1433.73,848.81 1587.76,857.9 1741.79,1154.49 1895.82,1337.97" stroke="#FF9500"/>
<polyline points="1279.7,889.33 1433.73,856.51 1587.76,844.55 1741.79,1142.73 1895.82,1337.41" stroke="#FF2C00"/>
<polyline points="1279.7,882.6 1433.73,841.84 1587.76,866.23 1741.79,1138.09 1895.82,1336.77" stroke="#845B97"/>
<polyline points="1279.7,885.84 1433.73,850.44 1587.76,818.66 1741.79,1145.55 1895.82,1336.66" stroke="#474747"/>
<polyline points="1279.7,888.01 1433.73,852.9 1587.76,836.67 1741.79,1144.84 1895.82,1338.08" stroke="#9e9e9e"/>
<polyline points="1279.7,884.95 1433.73,843.63 1587.76,876.86 1741.79,1143.24 1895.82,1336.88" stroke="#0C5DA5"/>
<polyline points="1279.7,891.94 1433.73,847.32 1587.76,828.42 1741.79,1142.9 1895.82,1341.35" stroke="#00B945"/>
<polyline points="1279.7,882.62 1433.73,847.78 1587.76,841.57 1741.79,1155.02 1895.82,1339.47" stroke="#FF9500"/>
<polyline points="1279.7,893.08 1433.73,849.27 1587.76,854.08 1741.79,1151.37 1895.82,1340.69" stroke="#FF2C00"/>
<polyline points="1279.7,890.71 1433.73,845.73 1587.76,818.66 1741.79,1141.85 1895.82,1340.94" stroke="#845B97"/>
<polyline points="1279.7,882.58 1433.73,852.4 1587.76,839.86 1741.79,1160.31 1895.82,1338.04" stroke="#474747"/>
<polyline points="1279.7,886.44 1433.73,846.98 1587.76,891.37 1741.79,1141.93 1895.82,1336.87" stroke="#9e9e9e"/>
<polyline points="1279.7,887.81 1433.73,846.54 1587.76,860.31 1741.79,1162.72 1895.82,1340.02" stroke="#0C5DA5"/>
<polyline points="1279.7,891.48 1433.73,843.07 1587.76,833.84 1741.79,1141.9 1895.82,1336.86" stroke="#00B945"/>
<polyline points="1279.7,886.17 1433.73,846.77 1587.76,851.22 1741.79,1136.22 1895.82,1336.86" stroke="#FF9500"/>
<polyline points="1279.7,882.2 1433.73,846.35 1587.76,838.02 1741.79,1142.8 1895.82,1337.98" stroke="#FF2C00"/>
<polyline points="1279.7,879.22 1433.73,845.25 1587.76,833.08 1741.79,1137.03 1895.82,1337.34" stroke="#845B97"/>
<polyline points="1279.7,889.4 1433.73,851.01 1587.76,852.69 1741.79,1155.98 1895.82,1337.62" stroke="#474747"/>
<polyline points="1279.7,883.53 1433.73,855.06 1587.76,818.66 1741.79,1141.21 1895.82,1337.75" stroke="#9e9e9e"/>
<polyline points="1279.7,884.07 1433.73,847.24 1587.76,858.01 1741.79,1135.4 1895.82,1337.06" stroke="#0C5DA5"/>
<polyline points="1279.7,881.85 1433.73,840.36 1587.76,891.37 1741.79,1141.35 1895.82,1336.89" stroke="#00B945"/>
<polyline points="1279.7,888.04 1433.73,866.08 1587.76,876.19 1741.79,1154.36 1895.82,1340.47" stroke="#FF9500"/>
<polyline points="1279.7,882.26 1433.73,848.2 1587.76,853.52 1741.79,1140.57 1895.82,1337.6" stroke="#FF2C00"/>
<polyline points="1279.7,881.83 1433.73,842.13 1587.76,880.92 1741.79,1138.91 1895.82,1336.76" stroke="#845B97"/>
<polyline points="1279.7,882.92 1433.73,863.71 1587.76,857.15 1741.79,1168.85 1895.82,1337.99" stroke="#474747"/>
<polyline points="1279.7,890.16 1433.73,841.06 1587.76,856.42 1741.79,1143.59 1895.82,1337.2" stroke="#9e9e9e"/>
<polyline points="1279.7,888.83 1433.73,846.85 1587.76,849.67 1741.79,1154.99 1895.82,1337.17" stroke="#0C5DA5"/>
<polyline points="1279.7,893.08 1433.73,857.1 1587.76,891.37 1741.79,1160.94 1895.82,1337.15" stroke="#00B945"/>
<polyline points="1279.7,881.82 1433.73,846.06 1587.76,891.37 1741.79,1139.1 1895.82,1336.83" stroke="#FF9500"/>
<polyline points="1279.7,883.07 1433.73,853.32 1587.76,856.6 1741.79,1142.26 1895.82,1339.62" stroke="#FF2C00"/>
<polyline points="1279.7,880.68 1433.73,846 1587.76,854.09 1741.79,1137.72 1895.82,1336.88" stroke="#845B97"/>
<polyline points="1279.7,889.48 1433.73,846.62 1587.76,854.32 1741.79,1152.45 1895.82,1339.21" stroke="#474747"/>
<polyline points="1279.7,889.76 1433.73,849.37 1587.76,842.45 1741.79,1145.94 1895.82,1338.05" stroke="#9e9e9e"/>
<polyline points="1279.7,886.23 1433.73,845.17 1587.76,850 1741.79,1136.56 1895.82,1336.75" stroke="#0C5DA5"/>
<polyline points="1279.7,887.56 1433.73,857.9 1587.76,821.55 1741.79,1138.69 1895.82,1337.03" stroke="#00B945"/>
<polyline points="1279.7,886.65 1433.73,864.25 1587.76,886.65 1741.79,1185.99 1895.82,1337.75" stroke="#845B97"/>
</g>
<path d="M1279.7 882.32V878.89M1279.7 888.99V893.13M1254.95 878.89h49.5M1254.95 893.13h49.5" stroke="#000" stroke-width="3.6" fill="none"/>
<rect x="1233.2" y="882.32" width="93" height="6.67" fill="#ffff00" fill-opacity="0.85" stroke="#1c1c10" stroke-opacity="0.9" stroke-width="3.6"/>
<path d="M1233.2 885.71h93" stroke="#f00" stroke-width="3.6" fill="none"/>
<path d="M1233.2 885.71h93" stroke="#00f" stroke-width="3.6" stroke-dasharray="13.3 5.8" fill="none"/>
<path d="M1433.73 845.83V840.3M1433.73 855.58V866.19M1408.98 840.3h49.5M1408.98 866.19h49.5" stroke="#000" stroke-width="3.6" fill="none"/>
<rect x="1387.23" y="845.83" width="93" height="9.76" fill="#ffff00" fill-opacity="0.85" stroke="#1c1c10" stroke-opacity="0.9" stroke-width="3.6"/>
<path d="M1387.23 847.82h93" stroke="#f00" stroke-width="3.6" fill="none"/>
<path d="M1387.23 850.51h93" stroke="#00f" stroke-width="3.6" stroke-dasharray="13.3 5.8" fill="none"/>
<path d="M1587.76 839.5V818.44M1587.76 865.99V891.63M1563.01 818.44h49.5M1563.01 891.63h49.5" stroke="#000" stroke-width="3.6" fill="none"/>
<rect x="1541.26" y="839.5" width="93" height="26.49" fill="#ffff00" fill-opacity="0.85" stroke="#1c1c10" stroke-opacity="0.9" stroke-width="3.6"/>
<path d="M1541.26 852.3h93" stroke="#f00" stroke-width="3.6" fill="none"/>
<path d="M1541.26 852.3h93" stroke="#00f" stroke-width="3.6" stroke-dasharray="13.3 5.8" fill="none"/>
<path d="M1741.79 1140.08V1134.01M1741.79 1155.87V1170.7M1717.04 1134.01h49.5M1717.04 1170.7h49.5" stroke="#000" stroke-width="3.6" fill="none"/>
<rect x="1695.29" y="1140.08" width="93" height="15.78" fill="#ffff00" fill-opacity="0.85" stroke="#1c1c10" stroke-opacity="0.9" stroke-width="3.6"/>
<path d="M1695.29 1145.11h93" stroke="#f00" stroke-width="3.6" fill="none"/>
<path d="M1695.29 1149.39h93" stroke="#00f" stroke-width="3.6" stroke-dasharray="13.3 5.8" fill="none"/>
<path d="M1895.82 1336.9V1336.66M1895.82 1338.2V1341.39M1871.07 1336.66h49.5M1871.07 1341.39h49.5" stroke="#000" stroke-width="3.6" fill="none"/>
<rect x="1849.32" y="1336.9" width="93" height="1.29" fill="#ffff00" fill-opacity="0.85" stroke="#1c1c10" stroke-opacity="0.9" stroke-width="3.6"/>
<path d="M1849.32 1337.5h93" stroke="#f00" stroke-width="3.6" fill="none"/>
<path d="M1849.32 1337.6h93" stroke="#00f" stroke-width="3.6" stroke-dasharray="13.3 5.8" fill="none"/>
<circle cx="1741.79" cy="1185.99" r="4" fill="#f00" stroke="#000" stroke-width="4"/>
</g>
<path d="M1279.7 1366.9v-12M1279.7 792.4v12M1433.73 1366.9v-12M1433.73 792.4v12M1587.76 1366.9v-12M1587.76 792.4v12M1741.79 1366.9v-12M1741.79 792.4v12M1895.82 1366.9v-12M1895.82 792.4v12M1218.09 1366.9v-6M1218.09 792.4v6M1248.89 1366.9v-6M1248.89 792.4v6M1310.51 1366.9v-6M1310.51 792.4v6M1341.31 1366.9v-6M1341.31 792.4v6M1372.12 1366.9v-6M1372.12 792.4v6M1402.92 1366.9v-6M1402.92 792.4v6M1464.54 1366.9v-6M1464.54 792.4v6M1495.34 1366.9v-6M1495.34 792.4v6M1526.15 1366.9v-6M1526.15 792.4v6M1556.95 1366.9v-6M1556.95 792.4v6M1618.57 1366.9v-6M1618.57 792.4v6M1649.37 1366.9v-6M1649.37 792.4v6M1680.18 1366.9v-6M1680.18 792.4v6M1710.98 1366.9v-6M1710.98 792.4v6M1772.6 1366.9v-6M1772.6 792.4v6M1803.4 1366.9v-6M1803.4 792.4v6M1834.21 1366.9v-6M1834.21 792.4v6M1865.01 1366.9v-6M1865.01 792.4v6M1926.63 1366.9v-6M1926.63 792.4v6M1957.43 1366.9v-6M1957.43 792.4v6M1202.6 1349.7h12M1973.1 1349.7h-12M1202.6 1250.12h12M1973.1 1250.12h-12M1202.6 1150.54h12M1973.1 1150.54h-12M1202.6 1050.96h12M1973.1 1050.96h-12M1202.6 951.38h12M1973.1 951.38h-12M1202.6 851.8h12M1973.1 851.8h-12M1202.6 1324.81h6M1973.1 1324.81h-6M1202.6 1299.91h6M1973.1 1299.91h-6M1202.6 1275.02h6M1973.1 1275.02h-6M1202.6 1225.23h6M1973.1 1225.23h-6M1202.6 1200.33h6M1973.1 1200.33h-6M1202.6 1175.43h6M1973.1 1175.43h-6M1202.6 1125.64h6M1973.1 1125.64h-6M1202.6 1100.75h6M1973.1 1100.75h-6M1202.6 1075.86h6M1973.1 1075.86h-6M1202.6 1026.07h6M1973.1 1026.07h-6M1202.6 1001.17h6M1973.1 1001.17h-6M1202.6 976.28h6M1973.1 976.28h-6M1202.6 926.49h6M1973.1 926.49h-6M1202.6 901.59h6M1973.1 901.59h-6M1202.6 876.7h6M1973.1 876.7h-6M1202.6 826.91h6M1973.1 826.91h-6M1202.6 802.01h6M1973.1 802.01h-6" stroke="#000" stroke-width="1.9" fill="none"/>
<rect x="1202.6" y="792.4" width="770.5" height="574.5" fill="none" stroke="#000" stroke-width="2"/>
<text x="1185.5" y="1363.3" font-size="40" text-anchor="end">0.0</text>
<text x="1185.5" y="1263.72" font-size="40" text-anchor="end">0.2</text>
<text x="1185.5" y="1164.14" font-size="40" text-anchor="end">0.4</text>
<text x="1185.5" y="1064.56" font-size="40" text-anchor="end">0.6</text>
<text x="1185.5" y="964.98" font-size="40" text-anchor="end">0.8</text>
<text x="1185.5" y="865.4" font-size="40" text-anchor="end">1.0</text>
<g transform="translate(1280.5 1409.2) scale(1.16 1)"><text x="0" y="0" font-size="42" text-anchor="middle"><tspan font-style="italic">S</tspan><tspan font-style="italic" font-size="29" dx="0.5" dy="5">F</tspan></text></g>
<g transform="translate(1434.53 1409.2) scale(1.16 1)"><text x="0" y="0" font-size="42" text-anchor="middle"><tspan font-style="italic">S</tspan><tspan font-style="italic" font-size="29" dx="0.5" dy="5">P</tspan></text></g>
<g transform="translate(1588.56 1409.2) scale(1.16 1)"><text x="0" y="0" font-size="42" text-anchor="middle"><tspan font-style="italic">S</tspan><tspan font-style="italic" font-size="29" dx="0.5" dy="5">G</tspan></text></g>
<g transform="translate(1742.59 1409.2) scale(1.16 1)"><text x="0" y="0" font-size="42" text-anchor="middle"><tspan font-style="italic">S</tspan><tspan font-style="italic" font-size="29" dx="0.5" dy="5">A</tspan></text></g>
<g transform="translate(1896.62 1409.2) scale(1.16 1)"><text x="0" y="0" font-size="42" text-anchor="middle"><tspan font-style="italic">S</tspan><tspan font-style="italic" font-size="29" dx="0.5" dy="5">L</tspan></text></g>
<g transform="translate(1078.4 1082.4) scale(0.8 1.18)"><text x="0" y="0" font-size="41" text-anchor="middle">[</text></g>
<g transform="translate(1109.6 1082.4) scale(0.8 1.18)"><text x="0" y="0" font-size="41" text-anchor="middle">]</text></g>
<g transform="translate(1094.3 1081.8) scale(1.15 1)"><text x="0" y="0" font-size="41" text-anchor="middle" font-style="italic">S</text></g>
<path d="M1070 1091.6h48" stroke="#000" stroke-width="2"/>
<g transform="translate(1094.3 1125.6) scale(1.18 1)"><text x="0" y="0" font-size="41" text-anchor="middle" font-style="italic">S</text></g>
<text x="1556.5" y="1491.5" font-size="47" text-anchor="middle">(d)</text>
</svg></body></html>
